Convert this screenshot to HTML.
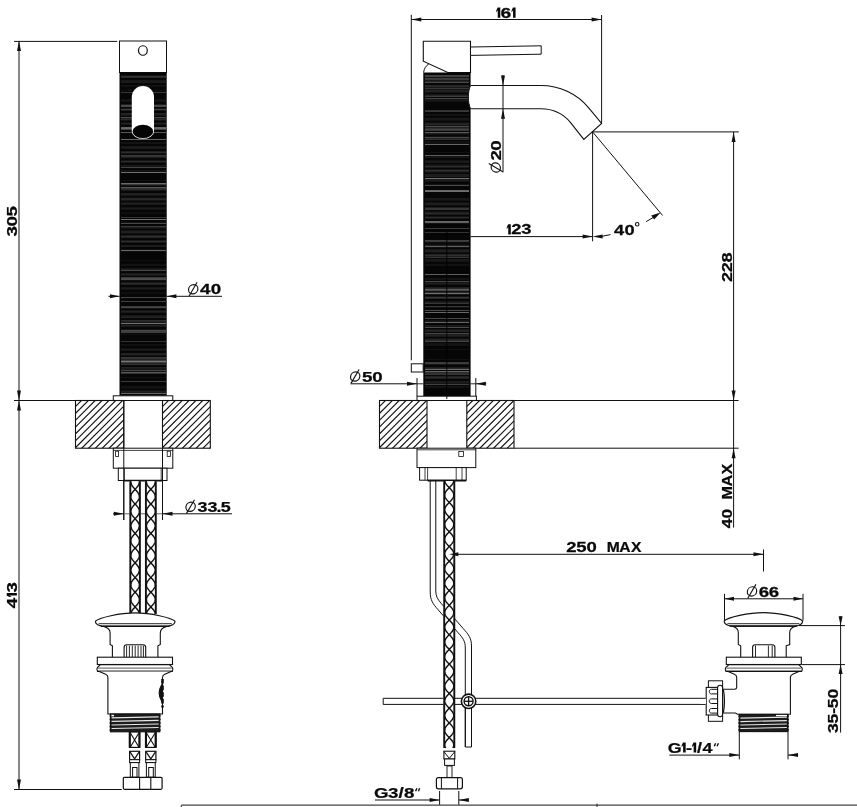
<!DOCTYPE html>
<html><head><meta charset="utf-8"><title>Faucet technical drawing</title>
<style>
html,body{margin:0;padding:0;background:#fff;}
body{width:857px;height:807px;overflow:hidden;}
svg{display:block;filter:grayscale(1);}
svg text{font-family:"Liberation Sans",sans-serif;font-weight:bold;fill:#0a0a0a;stroke:#0a0a0a;stroke-width:0.25px;}
</style></head><body>
<svg width="857" height="807" viewBox="0 0 857 807">
<defs>
<pattern id="h1" width="4.4" height="4.4" patternUnits="userSpaceOnUse">
<path d="M-1.1,1.1 L1.1,-1.1 M0,4.4 L4.4,0 M3.3,5.5 L5.5,3.3" stroke="#111" stroke-width="0.9" fill="none"/>
</pattern>
</defs>
<rect x="0" y="0" width="857" height="807" fill="#fff"/>
<line x1="411.30" y1="14.80" x2="411.30" y2="360.30" stroke="#111" stroke-width="1.0" />
<line x1="601.60" y1="15.00" x2="601.60" y2="123.00" stroke="#111" stroke-width="1.0" />
<line x1="411.30" y1="19.50" x2="601.60" y2="19.50" stroke="#111" stroke-width="1.0" />
<polygon points="411.30,19.50 421.30,17.50 421.30,21.50" fill="#111"/>
<polygon points="601.60,19.50 591.60,17.50 591.60,21.50" fill="#111"/>
<g transform="translate(496.30,17.60)"><polygon points="0.00,-7.16 1.35,-10.06 4.00,-10.06 4.00,0.10 1.45,0.10 1.45,-7.36 0.00,-5.16" fill="#0a0a0a"/><text transform="translate(4.30,0) scale(1.336,1)" font-size="14.4">6</text><polygon points="15.30,-7.16 16.65,-10.06 19.30,-10.06 19.30,0.10 16.75,0.10 16.75,-7.36 15.30,-5.16" fill="#0a0a0a"/></g>
<rect x="411.30" y="363.80" width="11.90" height="8.20" rx="0" fill="#fff" stroke="#111" stroke-width="1.0"/>
<path d="M423.3,41.3 L470.5,41.3 L470.5,72.5 L447.8,72.5 L423.3,61.2 Z" fill="#fff" stroke="#111" stroke-width="1.1" />
<path d="M423.6,72.5 C424,68.6 426,65.6 428.8,63.9" fill="none" stroke="#111" stroke-width="1.0" />
<path d="M470.5,47 L541.2,45.8 L541.2,54.2 L470.5,55.4 Z" fill="#fff" stroke="#111" stroke-width="1.0" />
<rect x="423.30" y="72.50" width="47.30" height="323.70" fill="#060606"/>
<g shape-rendering="crispEdges">
<rect x="424.5" y="75" width="44.9" height="1" fill="rgb(65,65,65)"/>
<rect x="424.5" y="76" width="44.9" height="1" fill="rgb(64,64,64)"/>
<rect x="424.5" y="77" width="44.9" height="1" fill="rgb(19,19,19)"/>
<rect x="424.5" y="78" width="44.9" height="1" fill="rgb(61,61,61)"/>
<rect x="424.5" y="79" width="44.9" height="1" fill="rgb(56,56,56)"/>
<rect x="424.5" y="80" width="44.9" height="1" fill="rgb(24,24,24)"/>
<rect x="424.5" y="81" width="44.9" height="1" fill="rgb(36,36,36)"/>
<rect x="424.5" y="82" width="44.9" height="1" fill="rgb(74,74,74)"/>
<rect x="424.5" y="85" width="44.9" height="1" fill="rgb(38,38,38)"/>
<rect x="424.5" y="86" width="44.9" height="1" fill="rgb(42,42,42)"/>
<rect x="424.5" y="87" width="44.9" height="1" fill="rgb(23,23,23)"/>
<rect x="424.5" y="88" width="44.9" height="1" fill="rgb(55,55,55)"/>
<rect x="424.5" y="89" width="44.9" height="1" fill="rgb(20,20,20)"/>
<rect x="424.5" y="90" width="44.9" height="1" fill="rgb(33,33,33)"/>
<rect x="424.5" y="91" width="44.9" height="1" fill="rgb(35,35,35)"/>
<rect x="424.5" y="92" width="44.9" height="1" fill="rgb(19,19,19)"/>
<rect x="424.5" y="94" width="44.9" height="1" fill="rgb(22,22,22)"/>
<rect x="424.5" y="95" width="44.9" height="1" fill="rgb(37,37,37)"/>
<rect x="424.5" y="96" width="44.9" height="1" fill="rgb(61,61,61)"/>
<rect x="424.5" y="98" width="44.9" height="1" fill="rgb(68,68,68)"/>
<rect x="424.5" y="99" width="44.9" height="1" fill="rgb(22,22,22)"/>
<rect x="424.5" y="100" width="44.9" height="1" fill="rgb(26,26,26)"/>
<rect x="424.5" y="101" width="44.9" height="1" fill="rgb(16,16,16)"/>
<rect x="424.5" y="110" width="44.9" height="1" fill="rgb(51,51,51)"/>
<rect x="424.5" y="111" width="44.9" height="1" fill="rgb(56,56,56)"/>
<rect x="424.5" y="114" width="44.9" height="1" fill="rgb(19,19,19)"/>
<rect x="424.5" y="115" width="44.9" height="1" fill="rgb(17,17,17)"/>
<rect x="424.5" y="118" width="44.9" height="1" fill="rgb(28,28,28)"/>
<rect x="424.5" y="119" width="44.9" height="1" fill="rgb(23,23,23)"/>
<rect x="424.5" y="120" width="44.9" height="1" fill="rgb(16,16,16)"/>
<rect x="424.5" y="122" width="44.9" height="1" fill="rgb(15,15,15)"/>
<rect x="424.5" y="123" width="44.9" height="1" fill="rgb(32,32,32)"/>
<rect x="424.5" y="124" width="44.9" height="1" fill="rgb(42,42,42)"/>
<rect x="424.5" y="125" width="44.9" height="1" fill="rgb(16,16,16)"/>
<rect x="424.5" y="126" width="44.9" height="1" fill="rgb(75,75,75)"/>
<rect x="424.5" y="127" width="44.9" height="1" fill="rgb(31,31,31)"/>
<rect x="424.5" y="128" width="44.9" height="1" fill="rgb(48,48,48)"/>
<rect x="424.5" y="129" width="44.9" height="1" fill="rgb(67,67,67)"/>
<rect x="424.5" y="130" width="44.9" height="1" fill="rgb(55,55,55)"/>
<rect x="424.5" y="132" width="44.9" height="1" fill="rgb(90,90,90)"/>
<rect x="424.5" y="133" width="44.9" height="1" fill="rgb(29,29,29)"/>
<rect x="424.5" y="134" width="44.9" height="1" fill="rgb(18,18,18)"/>
<rect x="424.5" y="136" width="44.9" height="1" fill="rgb(15,15,15)"/>
<rect x="424.5" y="137" width="44.9" height="1" fill="rgb(73,73,73)"/>
<rect x="424.5" y="138" width="44.9" height="1" fill="rgb(33,33,33)"/>
<rect x="424.5" y="139" width="44.9" height="1" fill="rgb(52,52,52)"/>
<rect x="424.5" y="141" width="44.9" height="1" fill="rgb(18,18,18)"/>
<rect x="424.5" y="142" width="44.9" height="1" fill="rgb(16,16,16)"/>
<rect x="424.5" y="143" width="44.9" height="1" fill="rgb(16,16,16)"/>
<rect x="424.5" y="144" width="44.9" height="1" fill="rgb(103,103,103)"/>
<rect x="424.5" y="152" width="44.9" height="1" fill="rgb(15,15,15)"/>
<rect x="424.5" y="155" width="44.9" height="1" fill="rgb(94,94,94)"/>
<rect x="424.5" y="156" width="44.9" height="1" fill="rgb(18,18,18)"/>
<rect x="424.5" y="157" width="44.9" height="1" fill="rgb(23,23,23)"/>
<rect x="424.5" y="160" width="44.9" height="1" fill="rgb(19,19,19)"/>
<rect x="424.5" y="161" width="44.9" height="1" fill="rgb(26,26,26)"/>
<rect x="424.5" y="162" width="44.9" height="1" fill="rgb(25,25,25)"/>
<rect x="424.5" y="164" width="44.9" height="1" fill="rgb(15,15,15)"/>
<rect x="424.5" y="165" width="44.9" height="1" fill="rgb(25,25,25)"/>
<rect x="424.5" y="166" width="44.9" height="1" fill="rgb(47,47,47)"/>
<rect x="424.5" y="167" width="44.9" height="1" fill="rgb(24,24,24)"/>
<rect x="424.5" y="169" width="44.9" height="1" fill="rgb(20,20,20)"/>
<rect x="424.5" y="170" width="44.9" height="1" fill="rgb(50,50,50)"/>
<rect x="424.5" y="171" width="44.9" height="1" fill="rgb(34,34,34)"/>
<rect x="424.5" y="172" width="44.9" height="1" fill="rgb(17,17,17)"/>
<rect x="424.5" y="174" width="44.9" height="1" fill="rgb(31,31,31)"/>
<rect x="424.5" y="175" width="44.9" height="1" fill="rgb(29,29,29)"/>
<rect x="424.5" y="176" width="44.9" height="1" fill="rgb(33,33,33)"/>
<rect x="424.5" y="178" width="44.9" height="1" fill="rgb(118,118,118)"/>
<rect x="424.5" y="179" width="44.9" height="1" fill="rgb(26,26,26)"/>
<rect x="424.5" y="180" width="44.9" height="1" fill="rgb(32,32,32)"/>
<rect x="424.5" y="181" width="44.9" height="1" fill="rgb(18,18,18)"/>
<rect x="424.5" y="184" width="44.9" height="1" fill="rgb(18,18,18)"/>
<rect x="424.5" y="185" width="44.9" height="1" fill="rgb(75,75,75)"/>
<rect x="424.5" y="190" width="44.9" height="1" fill="rgb(100,100,100)"/>
<rect x="424.5" y="191" width="44.9" height="1" fill="rgb(112,112,112)"/>
<rect x="424.5" y="198" width="44.9" height="1" fill="rgb(23,23,23)"/>
<rect x="424.5" y="199" width="44.9" height="1" fill="rgb(24,24,24)"/>
<rect x="424.5" y="200" width="44.9" height="1" fill="rgb(17,17,17)"/>
<rect x="424.5" y="202" width="44.9" height="1" fill="rgb(19,19,19)"/>
<rect x="424.5" y="203" width="44.9" height="1" fill="rgb(31,31,31)"/>
<rect x="424.5" y="204" width="44.9" height="1" fill="rgb(29,29,29)"/>
<rect x="424.5" y="205" width="44.9" height="1" fill="rgb(15,15,15)"/>
<rect x="424.5" y="207" width="44.9" height="1" fill="rgb(29,29,29)"/>
<rect x="424.5" y="208" width="44.9" height="1" fill="rgb(53,53,53)"/>
<rect x="424.5" y="209" width="44.9" height="1" fill="rgb(56,56,56)"/>
<rect x="424.5" y="211" width="44.9" height="1" fill="rgb(17,17,17)"/>
<rect x="424.5" y="212" width="44.9" height="1" fill="rgb(28,28,28)"/>
<rect x="424.5" y="213" width="44.9" height="1" fill="rgb(43,43,43)"/>
<rect x="424.5" y="214" width="44.9" height="1" fill="rgb(25,25,25)"/>
<rect x="424.5" y="216" width="44.9" height="1" fill="rgb(19,19,19)"/>
<rect x="424.5" y="217" width="44.9" height="1" fill="rgb(42,42,42)"/>
<rect x="424.5" y="218" width="44.9" height="1" fill="rgb(24,24,24)"/>
<rect x="424.5" y="221" width="44.9" height="1" fill="rgb(104,104,104)"/>
<rect x="424.5" y="222" width="44.9" height="1" fill="rgb(96,96,96)"/>
<rect x="424.5" y="223" width="44.9" height="1" fill="rgb(19,19,19)"/>
<rect x="424.5" y="228" width="44.9" height="1" fill="rgb(61,61,61)"/>
<rect x="424.5" y="232" width="44.9" height="1" fill="rgb(51,51,51)"/>
<rect x="424.5" y="240" width="44.9" height="1" fill="rgb(64,64,64)"/>
<rect x="424.5" y="241" width="44.9" height="1" fill="rgb(54,54,54)"/>
<rect x="424.5" y="242" width="44.9" height="1" fill="rgb(16,16,16)"/>
<rect x="424.5" y="244" width="44.9" height="1" fill="rgb(16,16,16)"/>
<rect x="424.5" y="245" width="44.9" height="1" fill="rgb(31,31,31)"/>
<rect x="424.5" y="246" width="44.9" height="1" fill="rgb(93,93,93)"/>
<rect x="424.5" y="247" width="44.9" height="1" fill="rgb(16,16,16)"/>
<rect x="424.5" y="249" width="44.9" height="1" fill="rgb(23,23,23)"/>
<rect x="424.5" y="250" width="44.9" height="1" fill="rgb(31,31,31)"/>
<rect x="424.5" y="251" width="44.9" height="1" fill="rgb(33,33,33)"/>
<rect x="424.5" y="252" width="44.9" height="1" fill="rgb(16,16,16)"/>
<rect x="424.5" y="254" width="44.9" height="1" fill="rgb(36,36,36)"/>
<rect x="424.5" y="255" width="44.9" height="1" fill="rgb(47,47,47)"/>
<rect x="424.5" y="256" width="44.9" height="1" fill="rgb(28,28,28)"/>
<rect x="424.5" y="257" width="44.9" height="1" fill="rgb(53,53,53)"/>
<rect x="424.5" y="259" width="44.9" height="1" fill="rgb(25,25,25)"/>
<rect x="424.5" y="260" width="44.9" height="1" fill="rgb(24,24,24)"/>
<rect x="424.5" y="261" width="44.9" height="1" fill="rgb(19,19,19)"/>
<rect x="424.5" y="264" width="44.9" height="1" fill="rgb(18,18,18)"/>
<rect x="424.5" y="265" width="44.9" height="1" fill="rgb(17,17,17)"/>
<rect x="424.5" y="274" width="44.9" height="1" fill="rgb(95,95,95)"/>
<rect x="424.5" y="278" width="44.9" height="1" fill="rgb(20,20,20)"/>
<rect x="424.5" y="279" width="44.9" height="1" fill="rgb(18,18,18)"/>
<rect x="424.5" y="281" width="44.9" height="1" fill="rgb(73,73,73)"/>
<rect x="424.5" y="282" width="44.9" height="1" fill="rgb(20,20,20)"/>
<rect x="424.5" y="283" width="44.9" height="1" fill="rgb(32,32,32)"/>
<rect x="424.5" y="284" width="44.9" height="1" fill="rgb(21,21,21)"/>
<rect x="424.5" y="287" width="44.9" height="1" fill="rgb(29,29,29)"/>
<rect x="424.5" y="288" width="44.9" height="1" fill="rgb(42,42,42)"/>
<rect x="424.5" y="289" width="44.9" height="1" fill="rgb(89,89,89)"/>
<rect x="424.5" y="290" width="44.9" height="1" fill="rgb(73,73,73)"/>
<rect x="424.5" y="291" width="44.9" height="1" fill="rgb(18,18,18)"/>
<rect x="424.5" y="292" width="44.9" height="1" fill="rgb(39,39,39)"/>
<rect x="424.5" y="293" width="44.9" height="1" fill="rgb(112,112,112)"/>
<rect x="424.5" y="294" width="44.9" height="1" fill="rgb(22,22,22)"/>
<rect x="424.5" y="296" width="44.9" height="1" fill="rgb(18,18,18)"/>
<rect x="424.5" y="297" width="44.9" height="1" fill="rgb(57,57,57)"/>
<rect x="424.5" y="298" width="44.9" height="1" fill="rgb(35,35,35)"/>
<rect x="424.5" y="301" width="44.9" height="1" fill="rgb(23,23,23)"/>
<rect x="424.5" y="302" width="44.9" height="1" fill="rgb(33,33,33)"/>
<rect x="424.5" y="303" width="44.9" height="1" fill="rgb(54,54,54)"/>
<rect x="424.5" y="306" width="44.9" height="1" fill="rgb(57,57,57)"/>
<rect x="424.5" y="307" width="44.9" height="1" fill="rgb(19,19,19)"/>
<rect x="424.5" y="310" width="44.9" height="1" fill="rgb(75,75,75)"/>
<rect x="424.5" y="312" width="44.9" height="1" fill="rgb(101,101,101)"/>
<rect x="424.5" y="318" width="44.9" height="1" fill="rgb(72,72,72)"/>
<rect x="424.5" y="320" width="44.9" height="1" fill="rgb(19,19,19)"/>
<rect x="424.5" y="321" width="44.9" height="1" fill="rgb(25,25,25)"/>
<rect x="424.5" y="322" width="44.9" height="1" fill="rgb(102,102,102)"/>
<rect x="424.5" y="325" width="44.9" height="1" fill="rgb(26,26,26)"/>
<rect x="424.5" y="326" width="44.9" height="1" fill="rgb(22,22,22)"/>
<rect x="424.5" y="327" width="44.9" height="1" fill="rgb(75,75,75)"/>
<rect x="424.5" y="329" width="44.9" height="1" fill="rgb(21,21,21)"/>
<rect x="424.5" y="330" width="44.9" height="1" fill="rgb(37,37,37)"/>
<rect x="424.5" y="331" width="44.9" height="1" fill="rgb(33,33,33)"/>
<rect x="424.5" y="333" width="44.9" height="1" fill="rgb(73,73,73)"/>
<rect x="424.5" y="334" width="44.9" height="1" fill="rgb(28,28,28)"/>
<rect x="424.5" y="335" width="44.9" height="1" fill="rgb(35,35,35)"/>
<rect x="424.5" y="336" width="44.9" height="1" fill="rgb(26,26,26)"/>
<rect x="424.5" y="338" width="44.9" height="1" fill="rgb(19,19,19)"/>
<rect x="424.5" y="339" width="44.9" height="1" fill="rgb(35,35,35)"/>
<rect x="424.5" y="340" width="44.9" height="1" fill="rgb(41,41,41)"/>
<rect x="424.5" y="341" width="44.9" height="1" fill="rgb(70,70,70)"/>
<rect x="424.5" y="343" width="44.9" height="1" fill="rgb(19,19,19)"/>
<rect x="424.5" y="344" width="44.9" height="1" fill="rgb(20,20,20)"/>
<rect x="424.5" y="345" width="44.9" height="1" fill="rgb(18,18,18)"/>
<rect x="424.5" y="349" width="44.9" height="1" fill="rgb(16,16,16)"/>
<rect x="424.5" y="359" width="44.9" height="1" fill="rgb(17,17,17)"/>
<rect x="424.5" y="362" width="44.9" height="1" fill="rgb(57,57,57)"/>
<rect x="424.5" y="363" width="44.9" height="1" fill="rgb(64,64,64)"/>
<rect x="424.5" y="364" width="44.9" height="1" fill="rgb(22,22,22)"/>
<rect x="424.5" y="367" width="44.9" height="1" fill="rgb(26,26,26)"/>
<rect x="424.5" y="368" width="44.9" height="1" fill="rgb(41,41,41)"/>
<rect x="424.5" y="369" width="44.9" height="1" fill="rgb(109,109,109)"/>
<rect x="424.5" y="371" width="44.9" height="1" fill="rgb(98,98,98)"/>
<rect x="424.5" y="372" width="44.9" height="1" fill="rgb(46,46,46)"/>
<rect x="424.5" y="373" width="44.9" height="1" fill="rgb(45,45,45)"/>
<rect x="424.5" y="374" width="44.9" height="1" fill="rgb(54,54,54)"/>
<rect x="424.5" y="376" width="44.9" height="1" fill="rgb(31,31,31)"/>
<rect x="424.5" y="377" width="44.9" height="1" fill="rgb(43,43,43)"/>
<rect x="424.5" y="378" width="44.9" height="1" fill="rgb(31,31,31)"/>
<rect x="424.5" y="381" width="44.9" height="1" fill="rgb(29,29,29)"/>
<rect x="424.5" y="382" width="44.9" height="1" fill="rgb(26,26,26)"/>
<rect x="424.5" y="383" width="44.9" height="1" fill="rgb(22,22,22)"/>
<rect x="424.5" y="384" width="44.9" height="1" fill="rgb(64,64,64)"/>
<rect x="424.5" y="386" width="44.9" height="1" fill="rgb(20,20,20)"/>
<rect x="424.5" y="387" width="44.9" height="1" fill="rgb(17,17,17)"/>
</g>
<path d="M472,85.5 L470.6,85.5 C467.6,91 467.6,103 470.6,108.8 L472,108.8 Z" fill="#fff"/>
<line x1="446.80" y1="231.00" x2="446.80" y2="399.00" stroke="#000" stroke-width="0.9" />
<path d="M470.6,85.5 L541,85.5 A62,62 0 0 1 588.5,107.6 L601.6,123.4 L583.8,139.4 L570.6,122.6 A38.7,38.7 0 0 0 541,108.8 L470.6,108.8" fill="#fff" stroke="#111" stroke-width="1.1" />
<path d="M470.6,85.5 C467.6,91 467.6,103 470.6,108.8" fill="none" stroke="#111" stroke-width="1.0" />
<line x1="503.00" y1="75.00" x2="503.00" y2="172.40" stroke="#111" stroke-width="1.0" />
<polygon points="503.00,85.50 501.00,75.50 505.00,75.50" fill="#111"/>
<polygon points="503.00,108.80 501.00,118.80 505.00,118.80" fill="#111"/>
<g transform="translate(495.80,167.50) rotate(-90)"><ellipse cx="0" cy="0" rx="4.65" ry="4.65" fill="none" stroke="#111" stroke-width="1.15" transform="skewX(-6)"/><line x1="-4.2" y1="6.9" x2="3.9" y2="-7.0" stroke="#111" stroke-width="1.1"/></g>
<g transform="translate(501.00,159.90) rotate(-90)"><text transform="translate(-0.65,0) scale(1.299,1)" font-size="14.4">2</text><text transform="translate(9.27,0) scale(1.299,1)" font-size="14.4">0</text></g>
<line x1="592.60" y1="131.90" x2="738.80" y2="131.90" stroke="#111" stroke-width="1.0" />
<line x1="592.60" y1="131.90" x2="592.60" y2="241.30" stroke="#111" stroke-width="1.0" />
<line x1="592.60" y1="131.90" x2="662.60" y2="215.50" stroke="#111" stroke-width="1.0" />
<line x1="470.60" y1="236.60" x2="592.60" y2="236.60" stroke="#111" stroke-width="1.0" />
<polygon points="592.60,236.60 582.60,234.60 582.60,238.60" fill="#111"/>
<g transform="translate(506.80,234.40)"><polygon points="0.00,-7.16 1.35,-10.06 4.00,-10.06 4.00,0.10 1.45,0.10 1.45,-7.36 0.00,-5.16" fill="#0a0a0a"/><text transform="translate(4.36,0) scale(1.277,1)" font-size="14.4">2</text><text transform="translate(14.43,0) scale(1.277,1)" font-size="14.4">3</text></g>
<polygon points="592.60,236.60 602.60,234.60 602.60,238.60" fill="#111"/>
<line x1="602.00" y1="236.30" x2="610.50" y2="234.60" stroke="#111" stroke-width="1.0" />
<polygon points="660.6,212.6 651.2,215.6 654.2,219.6" fill="#111"/>
<line x1="653.20" y1="217.50" x2="646.20" y2="221.60" stroke="#111" stroke-width="1.0" />
<g transform="translate(614.30,235.00)"><text transform="translate(-0.28,0) scale(1.270,1)" font-size="14.4">4</text><text transform="translate(10.08,0) scale(1.270,1)" font-size="14.4">0</text></g>
<circle cx="637.2" cy="224.2" r="1.75" fill="none" stroke="#111" stroke-width="1.1"/>
<line x1="733.60" y1="131.90" x2="733.60" y2="527.60" stroke="#111" stroke-width="1.0" />
<polygon points="733.60,131.90 731.60,141.90 735.60,141.90" fill="#111"/>
<polygon points="733.60,400.50 731.60,390.50 735.60,390.50" fill="#111"/>
<polygon points="733.60,448.20 731.60,458.20 735.60,458.20" fill="#111"/>
<g transform="translate(731.80,281.40) rotate(-90)"><text transform="translate(-0.63,0) scale(1.259,1)" font-size="14.4">2</text><text transform="translate(9.10,0) scale(1.259,1)" font-size="14.4">2</text><text transform="translate(18.88,0) scale(1.259,1)" font-size="14.4">8</text></g>
<g transform="translate(731.80,528.00) rotate(-90)"><text transform="translate(-0.26,0) scale(1.202,1)" font-size="14.4">4</text><text transform="translate(9.59,0) scale(1.202,1)" font-size="14.4">0</text></g>
<g transform="translate(731.80,498.50) rotate(-90)"><text transform="translate(-1.08,0) scale(1.124,1)" font-size="14.4">M</text><text transform="translate(11.92,0) scale(1.124,1)" font-size="14.4">A</text><text transform="translate(24.04,0) scale(1.124,1)" font-size="14.4">X</text></g>
<line x1="514.00" y1="400.50" x2="738.60" y2="400.50" stroke="#111" stroke-width="1.0" />
<line x1="514.00" y1="448.20" x2="738.60" y2="448.20" stroke="#111" stroke-width="1.0" />
<line x1="350.50" y1="383.80" x2="417.00" y2="383.80" stroke="#111" stroke-width="1.0" />
<polygon points="417.00,383.80 407.00,381.80 407.00,385.80" fill="#111"/>
<line x1="417.00" y1="378.00" x2="417.00" y2="396.00" stroke="#111" stroke-width="1.0" />
<line x1="475.80" y1="378.00" x2="475.80" y2="396.00" stroke="#111" stroke-width="1.0" />
<polygon points="475.80,383.80 485.80,381.80 485.80,385.80" fill="#111"/>
<line x1="475.80" y1="383.80" x2="486.30" y2="383.80" stroke="#111" stroke-width="1.0" />
<line x1="417.00" y1="383.80" x2="423.30" y2="383.80" stroke="#111" stroke-width="0.9" />
<line x1="470.60" y1="383.80" x2="475.80" y2="383.80" stroke="#111" stroke-width="0.9" />
<g transform="translate(355.20,376.50) rotate(0)"><ellipse cx="0" cy="0" rx="4.65" ry="4.65" fill="none" stroke="#111" stroke-width="1.15" transform="skewX(-6)"/><line x1="-4.2" y1="6.9" x2="3.9" y2="-7.0" stroke="#111" stroke-width="1.1"/></g>
<g transform="translate(362.70,381.50)"><text transform="translate(-0.58,0) scale(1.299,1)" font-size="14.4">5</text><text transform="translate(9.57,0) scale(1.299,1)" font-size="14.4">0</text></g>
<rect x="417.00" y="396.20" width="59.40" height="4.30" rx="0" fill="#fff" stroke="#111" stroke-width="1.0"/>
<line x1="446.80" y1="395.00" x2="446.80" y2="399.00" stroke="#000" stroke-width="0.9" />
<clipPath id="hc1"><rect x="379.50" y="400.50" width="47.50" height="47.70"/></clipPath>
<rect x="379.50" y="400.50" width="47.50" height="47.70" fill="#fff"/>
<path d="M336.80,449.20 L386.50,399.50 M343.65,449.20 L393.35,399.50 M350.50,449.20 L400.20,399.50 M357.35,449.20 L407.05,399.50 M364.20,449.20 L413.90,399.50 M371.05,449.20 L420.75,399.50 M377.90,449.20 L427.60,399.50 M384.75,449.20 L434.45,399.50 M391.60,449.20 L441.30,399.50 M398.45,449.20 L448.15,399.50 M405.30,449.20 L455.00,399.50 M412.15,449.20 L461.85,399.50 M419.00,449.20 L468.70,399.50 M425.85,449.20 L475.55,399.50" stroke="#111" stroke-width="1.15" fill="none" clip-path="url(#hc1)"/>
<rect x="379.50" y="400.50" width="47.50" height="47.70" fill="none" stroke="#111" stroke-width="1.1"/>
<clipPath id="hc2"><rect x="466.80" y="400.50" width="47.20" height="47.70"/></clipPath>
<rect x="466.80" y="400.50" width="47.20" height="47.70" fill="#fff"/>
<path d="M424.10,449.20 L473.80,399.50 M430.95,449.20 L480.65,399.50 M437.80,449.20 L487.50,399.50 M444.65,449.20 L494.35,399.50 M451.50,449.20 L501.20,399.50 M458.35,449.20 L508.05,399.50 M465.20,449.20 L514.90,399.50 M472.05,449.20 L521.75,399.50 M478.90,449.20 L528.60,399.50 M485.75,449.20 L535.45,399.50 M492.60,449.20 L542.30,399.50 M499.45,449.20 L549.15,399.50 M506.30,449.20 L556.00,399.50" stroke="#111" stroke-width="1.15" fill="none" clip-path="url(#hc2)"/>
<rect x="466.80" y="400.50" width="47.20" height="47.70" fill="none" stroke="#111" stroke-width="1.1"/>
<rect x="417.00" y="448.20" width="58.80" height="19.40" rx="0" fill="#fff" stroke="#111" stroke-width="1.0"/>
<line x1="417.00" y1="449.80" x2="475.80" y2="449.80" stroke="#111" stroke-width="0.8" />
<rect x="458.80" y="451.40" width="4.80" height="5.00" rx="0" fill="#fff" stroke="#111" stroke-width="0.8"/>
<rect x="419.60" y="467.60" width="46.60" height="12.60" rx="0" fill="#fff" stroke="#111" stroke-width="1.0"/>
<line x1="425.00" y1="467.60" x2="425.00" y2="480.20" stroke="#111" stroke-width="0.8" />
<line x1="427.60" y1="467.60" x2="427.60" y2="480.20" stroke="#111" stroke-width="0.8" />
<line x1="456.20" y1="467.60" x2="456.20" y2="480.20" stroke="#111" stroke-width="0.8" />
<line x1="462.00" y1="467.60" x2="462.00" y2="480.20" stroke="#111" stroke-width="0.8" />
<line x1="427.60" y1="480.60" x2="466.20" y2="480.60" stroke="#111" stroke-width="1.6" />
<path d="M430.2,481 L430.2,592 C430.2,600 433,604 438,609.6 L458,632.6 C463,638.2 465.3,641 465.3,648 L465.3,747" fill="none" stroke="#111" stroke-width="1.0" />
<path d="M435.8,481 L435.8,591 C435.8,596 437.4,599 441,603.2 L463,628.3 C468.4,634.4 471.5,638 471.5,646 L471.5,747 L465.3,747" fill="none" stroke="#111" stroke-width="1.0" />
<path d="M705.6,698.3 L383.2,698.3 L383.2,704.4 L705.6,704.4" fill="#fff" stroke="#111" stroke-width="1.0" />
<rect x="465.8" y="697" width="5.2" height="9" fill="#fff"/>
<rect x="443.50" y="481.00" width="11.50" height="267.00" fill="#fff"/>
<line x1="444.20" y1="481.00" x2="444.20" y2="748.00" stroke="#111" stroke-width="1.9" />
<line x1="454.30" y1="481.00" x2="454.30" y2="748.00" stroke="#111" stroke-width="1.9" />
<polyline points="453.76,481.00 453.58,481.80 453.28,482.60 452.87,483.40 452.35,484.20 451.73,485.00 451.05,485.80 450.31,486.60 449.55,487.40 448.77,488.19 448.01,488.99 447.28,489.79 446.61,490.59 446.02,491.39 445.52,492.19 445.13,492.99 444.86,493.79 444.72,494.59 444.71,495.39 444.83,496.19 445.08,496.99 445.46,497.79 445.94,498.59 446.52,499.39 447.18,500.19 447.89,500.99 448.65,501.78 449.43,502.58 450.20,503.38 450.94,504.18 451.64,504.98 452.26,505.78 452.80,506.58 453.23,507.38 453.55,508.18 453.74,508.98 453.80,509.78 453.73,510.58 453.53,511.38 453.20,512.18 452.76,512.98 452.22,513.78 451.59,514.57 450.89,515.37 450.14,516.17 449.37,516.97 448.60,517.77 447.84,518.57 447.13,519.37 446.47,520.17 445.90,520.97 445.43,521.77 445.06,522.57 444.82,523.37 444.71,524.17 444.73,524.97 444.88,525.77 445.16,526.57 445.55,527.37 446.06,528.16 446.66,528.96 447.33,529.76 448.06,530.56 448.82,531.36 449.60,532.16 450.37,532.96 451.10,533.76 451.78,534.56 452.39,535.36 452.90,536.16 453.31,536.96 453.60,537.76 453.76,538.56 453.80,539.36 453.70,540.16 453.47,540.96 453.11,541.75 452.65,542.55 452.08,543.35 451.44,544.15 450.73,544.95 449.97,545.75 449.20,546.55 448.43,547.35 447.68,548.15 446.98,548.95 446.34,549.75 445.79,550.55 445.34,551.35 445.00,552.15 444.78,552.95 444.70,553.75 444.75,554.54 444.93,555.34 445.24,556.14 445.66,556.94 446.19,557.74 446.80,558.54 447.49,559.34 448.23,560.14 449.00,560.94 449.77,561.74 450.53,562.54 451.26,563.34 451.92,564.14 452.51,564.94 453.00,565.74 453.38,566.54 453.65,567.34 453.78,568.13 453.78,568.93 453.66,569.73 453.40,570.53 453.02,571.33 452.53,572.13 451.95,572.93 451.28,573.73 450.56,574.53 449.80,575.33 449.03,576.13 448.26,576.93 447.52,577.73 446.83,578.53 446.21,579.33 445.68,580.13 445.25,580.93 444.94,581.72 444.75,582.52 444.70,583.32 444.78,584.12 444.99,584.92 445.32,585.72 445.77,586.52 446.32,587.32 446.95,588.12 447.65,588.92 448.40,589.72 449.17,590.52 449.94,591.32 450.70,592.12 451.41,592.92 452.06,593.72 452.63,594.51 453.10,595.31 453.45,596.11 453.69,596.91 453.79,597.71 453.77,598.51 453.61,599.31 453.32,600.11 452.92,600.91 452.41,601.71 451.81,602.51 451.13,603.31 450.40,604.11 449.63,604.91 448.86,605.71 448.09,606.51 447.36,607.31 446.68,608.10 446.08,608.90 445.57,609.70 445.17,610.50 444.89,611.30 444.73,612.10 444.71,612.90 444.81,613.70 445.05,614.50 445.41,615.30 445.88,616.10 446.45,616.90 447.10,617.70 447.81,618.50 448.57,619.30 449.34,620.10 450.12,620.90 450.86,621.69 451.56,622.49 452.19,623.29 452.74,624.09 453.19,624.89 453.52,625.69 453.72,626.49 453.80,627.29 453.74,628.09 453.56,628.89 453.24,629.69 452.81,630.49 452.28,631.29 451.66,632.09 450.97,632.89 450.23,633.69 449.46,634.49 448.68,635.28 447.92,636.08 447.20,636.88 446.54,637.68 445.96,638.48 445.47,639.28 445.10,640.08 444.84,640.88 444.71,641.68 444.72,642.48 444.86,643.28 445.12,644.08 445.51,644.88 446.00,645.68 446.59,646.48 447.25,647.28 447.98,648.07 448.74,648.87 449.52,649.67 450.28,650.47 451.02,651.27 451.71,652.07 452.32,652.87 452.85,653.67 453.27,654.47 453.57,655.27 453.75,656.07 453.80,656.87 453.71,657.67 453.50,658.47 453.16,659.27 452.70,660.07 452.15,660.87 451.51,661.66 450.81,662.46 450.06,663.26 449.29,664.06 448.51,664.86 447.76,665.66 447.05,666.46 446.41,667.26 445.84,668.06 445.38,668.86 445.03,669.66 444.80,670.46 444.70,671.26 444.74,672.06 444.90,672.86 445.20,673.66 445.61,674.46 446.12,675.25 446.73,676.05 447.41,676.85 448.15,677.65 448.91,678.45 449.69,679.25 450.45,680.05 451.18,680.85 451.85,681.65 452.45,682.45 452.95,683.25 453.35,684.05 453.62,684.85 453.77,685.65 453.79,686.45 453.68,687.25 453.43,688.04 453.07,688.84 452.59,689.64 452.02,690.44 451.36,691.24 450.65,692.04 449.89,692.84 449.11,693.64 448.34,694.44 447.60,695.24 446.90,696.04 446.27,696.84 445.73,697.64 445.29,698.44 444.97,699.24 444.77,700.04 444.70,700.84 444.76,701.63 444.96,702.43 445.28,703.23 445.71,704.03 446.25,704.83 446.88,705.63 447.57,706.43 448.31,707.23 449.08,708.03 449.86,708.83 450.62,709.63 451.34,710.43 451.99,711.23 452.57,712.03 453.05,712.83 453.42,713.63 453.67,714.43 453.79,715.22 453.78,716.02 453.63,716.82 453.36,717.62 452.97,718.42 452.47,719.22 451.88,720.02 451.21,720.82 450.48,721.62 449.72,722.42 448.94,723.22 448.17,724.02 447.44,724.82 446.75,725.62 446.14,726.42 445.62,727.22 445.21,728.01 444.91,728.81 444.74,729.61 444.70,730.41 444.80,731.21 445.02,732.01 445.36,732.81 445.82,733.61 446.38,734.41 447.03,735.21 447.73,736.01 448.48,736.81 449.26,737.61 450.03,738.41 450.78,739.21 451.49,740.01 452.13,740.81 452.69,741.60 453.14,742.40 453.49,743.20 453.71,744.00 453.80,744.80 453.76,745.60 453.58,746.40 453.28,747.20 452.87,748.00" fill="none" stroke="#111" stroke-width="1.45"/>
<polyline points="444.74,481.00 444.92,481.80 445.22,482.60 445.63,483.40 446.15,484.20 446.77,485.00 447.45,485.80 448.19,486.60 448.95,487.40 449.73,488.19 450.49,488.99 451.22,489.79 451.89,490.59 452.48,491.39 452.98,492.19 453.37,492.99 453.64,493.79 453.78,494.59 453.79,495.39 453.67,496.19 453.42,496.99 453.04,497.79 452.56,498.59 451.98,499.39 451.32,500.19 450.61,500.99 449.85,501.78 449.07,502.58 448.30,503.38 447.56,504.18 446.86,504.98 446.24,505.78 445.70,506.58 445.27,507.38 444.95,508.18 444.76,508.98 444.70,509.78 444.77,510.58 444.97,511.38 445.30,512.18 445.74,512.98 446.28,513.78 446.91,514.57 447.61,515.37 448.36,516.17 449.13,516.97 449.90,517.77 450.66,518.57 451.37,519.37 452.03,520.17 452.60,520.97 453.07,521.77 453.44,522.57 453.68,523.37 453.79,524.17 453.77,524.97 453.62,525.77 453.34,526.57 452.95,527.37 452.44,528.16 451.84,528.96 451.17,529.76 450.44,530.56 449.68,531.36 448.90,532.16 448.13,532.96 447.40,533.76 446.72,534.56 446.11,535.36 445.60,536.16 445.19,536.96 444.90,537.76 444.74,538.56 444.70,539.36 444.80,540.16 445.03,540.96 445.39,541.75 445.85,542.55 446.42,543.35 447.06,544.15 447.77,544.95 448.53,545.75 449.30,546.55 450.07,547.35 450.82,548.15 451.52,548.95 452.16,549.75 452.71,550.55 453.16,551.35 453.50,552.15 453.72,552.95 453.80,553.75 453.75,554.54 453.57,555.34 453.26,556.14 452.84,556.94 452.31,557.74 451.70,558.54 451.01,559.34 450.27,560.14 449.50,560.94 448.73,561.74 447.97,562.54 447.24,563.34 446.58,564.14 445.99,564.94 445.50,565.74 445.12,566.54 444.85,567.34 444.72,568.13 444.72,568.93 444.84,569.73 445.10,570.53 445.48,571.33 445.97,572.13 446.55,572.93 447.22,573.73 447.94,574.53 448.70,575.33 449.47,576.13 450.24,576.93 450.98,577.73 451.67,578.53 452.29,579.33 452.82,580.13 453.25,580.93 453.56,581.72 453.75,582.52 453.80,583.32 453.72,584.12 453.51,584.92 453.18,585.72 452.73,586.52 452.18,587.32 451.55,588.12 450.85,588.92 450.10,589.72 449.33,590.52 448.56,591.32 447.80,592.12 447.09,592.92 446.44,593.72 445.87,594.51 445.40,595.31 445.05,596.11 444.81,596.91 444.71,597.71 444.73,598.51 444.89,599.31 445.18,600.11 445.58,600.91 446.09,601.71 446.69,602.51 447.37,603.31 448.10,604.11 448.87,604.91 449.64,605.71 450.41,606.51 451.14,607.31 451.82,608.10 452.42,608.90 452.93,609.70 453.33,610.50 453.61,611.30 453.77,612.10 453.79,612.90 453.69,613.70 453.45,614.50 453.09,615.30 452.62,616.10 452.05,616.90 451.40,617.70 450.69,618.50 449.93,619.30 449.16,620.10 448.38,620.90 447.64,621.69 446.94,622.49 446.31,623.29 445.76,624.09 445.31,624.89 444.98,625.69 444.78,626.49 444.70,627.29 444.76,628.09 444.94,628.89 445.26,629.69 445.69,630.49 446.22,631.29 446.84,632.09 447.53,632.89 448.27,633.69 449.04,634.49 449.82,635.28 450.58,636.08 451.30,636.88 451.96,637.68 452.54,638.48 453.03,639.28 453.40,640.08 453.66,640.88 453.79,641.68 453.78,642.48 453.64,643.28 453.38,644.08 452.99,644.88 452.50,645.68 451.91,646.48 451.25,647.28 450.52,648.07 449.76,648.87 448.98,649.67 448.22,650.47 447.48,651.27 446.79,652.07 446.18,652.87 445.65,653.67 445.23,654.47 444.93,655.27 444.75,656.07 444.70,656.87 444.79,657.67 445.00,658.47 445.34,659.27 445.80,660.07 446.35,660.87 446.99,661.66 447.69,662.46 448.44,663.26 449.21,664.06 449.99,664.86 450.74,665.66 451.45,666.46 452.09,667.26 452.66,668.06 453.12,668.86 453.47,669.66 453.70,670.46 453.80,671.26 453.76,672.06 453.60,672.86 453.30,673.66 452.89,674.46 452.38,675.25 451.77,676.05 451.09,676.85 450.35,677.65 449.59,678.45 448.81,679.25 448.05,680.05 447.32,680.85 446.65,681.65 446.05,682.45 445.55,683.25 445.15,684.05 444.88,684.85 444.73,685.65 444.71,686.45 444.82,687.25 445.07,688.04 445.43,688.84 445.91,689.64 446.48,690.44 447.14,691.24 447.85,692.04 448.61,692.84 449.39,693.64 450.16,694.44 450.90,695.24 451.60,696.04 452.23,696.84 452.77,697.64 453.21,698.44 453.53,699.24 453.73,700.04 453.80,700.84 453.74,701.63 453.54,702.43 453.22,703.23 452.79,704.03 452.25,704.83 451.62,705.63 450.93,706.43 450.19,707.23 449.42,708.03 448.64,708.83 447.88,709.63 447.16,710.43 446.51,711.23 445.93,712.03 445.45,712.83 445.08,713.63 444.83,714.43 444.71,715.22 444.72,716.02 444.87,716.82 445.14,717.62 445.53,718.42 446.03,719.22 446.62,720.02 447.29,720.82 448.02,721.62 448.78,722.42 449.56,723.22 450.33,724.02 451.06,724.82 451.75,725.62 452.36,726.42 452.88,727.22 453.29,728.01 453.59,728.81 453.76,729.61 453.80,730.41 453.70,731.21 453.48,732.01 453.14,732.81 452.68,733.61 452.12,734.41 451.47,735.21 450.77,736.01 450.02,736.81 449.24,737.61 448.47,738.41 447.72,739.21 447.01,740.01 446.37,740.81 445.81,741.60 445.36,742.40 445.01,743.20 444.79,744.00 444.70,744.80 444.74,745.60 444.92,746.40 445.22,747.20 445.63,748.00" fill="none" stroke="#111" stroke-width="1.45"/>
<circle cx="468.6" cy="701.3" r="7.2" fill="#fff" stroke="#111" stroke-width="1.6"/>
<circle cx="468.6" cy="701.3" r="4.5" fill="#fff" stroke="#111" stroke-width="1.4"/>
<line x1="464.40" y1="701.30" x2="472.80" y2="701.30" stroke="#111" stroke-width="1.3" />
<line x1="468.60" y1="697.10" x2="468.60" y2="705.50" stroke="#111" stroke-width="1.3" />
<line x1="465.30" y1="708.00" x2="465.30" y2="747.00" stroke="#111" stroke-width="1.0" />
<line x1="471.50" y1="708.00" x2="471.50" y2="747.00" stroke="#111" stroke-width="1.0" />
<rect x="443.90" y="751.20" width="10.90" height="7.80" rx="0" fill="#fff" stroke="#111" stroke-width="1.1"/>
<path d="M443.9,751.6 L449.3,758.4 L454.8,751.6" fill="none" stroke="#111" stroke-width="1.0" />
<rect x="444.60" y="759.00" width="9.80" height="6.40" rx="0" fill="#fff" stroke="#111" stroke-width="1.0"/>
<rect x="447.00" y="766.00" width="5.00" height="11.40" rx="0" fill="#fff" stroke="#111" stroke-width="0.9"/>
<rect x="436.40" y="777.60" width="26.00" height="11.20" rx="2" fill="#fff" stroke="#111" stroke-width="1.2"/>
<line x1="441.40" y1="777.60" x2="441.40" y2="788.80" stroke="#111" stroke-width="1.0" />
<line x1="457.60" y1="777.60" x2="457.60" y2="788.80" stroke="#111" stroke-width="1.0" />
<line x1="439.60" y1="791.00" x2="439.60" y2="805.00" stroke="#111" stroke-width="1.0" />
<line x1="458.80" y1="791.00" x2="458.80" y2="805.00" stroke="#111" stroke-width="1.0" />
<line x1="375.00" y1="800.00" x2="439.60" y2="800.00" stroke="#111" stroke-width="1.0" />
<polygon points="439.60,800.00 429.60,798.00 429.60,802.00" fill="#111"/>
<polygon points="458.80,800.00 468.80,798.00 468.80,802.00" fill="#111"/>
<line x1="458.80" y1="800.00" x2="468.80" y2="800.00" stroke="#111" stroke-width="1.0" />
<g transform="translate(374.80,797.70)"><text transform="translate(-0.77,0) scale(1.299,1)" font-size="14.4">G</text><text transform="translate(13.20,0) scale(1.299,1)" font-size="14.4">3</text><text transform="translate(23.75,0) scale(1.299,1)" font-size="14.4">/</text><text transform="translate(29.17,0) scale(1.299,1)" font-size="14.4">8</text></g>
<line x1="415.60" y1="791.20" x2="416.90" y2="788.20" stroke="#111" stroke-width="1.4" />
<line x1="418.40" y1="791.20" x2="419.70" y2="788.20" stroke="#111" stroke-width="1.4" />
<line x1="455.00" y1="554.30" x2="763.50" y2="554.30" stroke="#111" stroke-width="1.0" />
<polygon points="763.50,554.30 753.50,552.30 753.50,556.30" fill="#111"/>
<polygon points="449.30,554.30 458.30,552.30 458.30,556.30" fill="#111"/>
<line x1="763.50" y1="549.50" x2="763.50" y2="571.50" stroke="#111" stroke-width="1.0" />
<g transform="translate(567.00,552.40)"><text transform="translate(-0.64,0) scale(1.289,1)" font-size="14.4">2</text><text transform="translate(9.37,0) scale(1.289,1)" font-size="14.4">5</text><text transform="translate(19.44,0) scale(1.289,1)" font-size="14.4">0</text></g>
<g transform="translate(607.80,552.40)"><text transform="translate(-1.05,0) scale(1.087,1)" font-size="14.4">M</text><text transform="translate(11.55,0) scale(1.087,1)" font-size="14.4">A</text><text transform="translate(23.30,0) scale(1.087,1)" font-size="14.4">X</text></g>
<line x1="181.30" y1="805.20" x2="857.00" y2="805.20" stroke="#444" stroke-width="1.2" />
<line x1="181.30" y1="805.20" x2="181.30" y2="807.00" stroke="#444" stroke-width="1.2" />
<line x1="597.00" y1="803.60" x2="597.00" y2="807.00" stroke="#222" stroke-width="1.0" />
<line x1="724.50" y1="593.80" x2="724.50" y2="620.50" stroke="#111" stroke-width="1.0" />
<line x1="803.00" y1="593.80" x2="803.00" y2="620.50" stroke="#111" stroke-width="1.0" />
<line x1="724.50" y1="598.80" x2="803.00" y2="598.80" stroke="#111" stroke-width="1.0" />
<polygon points="724.50,598.80 734.00,596.80 734.00,600.80" fill="#111"/>
<polygon points="803.00,598.80 793.50,596.80 793.50,600.80" fill="#111"/>
<g transform="translate(752.00,591.40) rotate(0)"><ellipse cx="0" cy="0" rx="4.65" ry="4.65" fill="none" stroke="#111" stroke-width="1.15" transform="skewX(-6)"/><line x1="-4.2" y1="6.9" x2="3.9" y2="-7.0" stroke="#111" stroke-width="1.1"/></g>
<g transform="translate(759.40,596.50)"><text transform="translate(-0.68,0) scale(1.293,1)" font-size="14.4">6</text><text transform="translate(9.32,0) scale(1.293,1)" font-size="14.4">6</text></g>
<path d="M724.3,620.8 C727.8,617.3 748.6,612.6 763.4,612.6 C778.2,612.6 799,617.3 802.5,620.8 C802.8,622.7 801,624.4 798.8,625.2 L795.6,626.2 L731.2,626.2 L728,625.2 C725.8,624.4 724,622.7 724.3,620.8 Z" fill="#fff" stroke="#111" stroke-width="1.15" />
<line x1="727.40" y1="623.70" x2="799.40" y2="623.70" stroke="#111" stroke-width="0.9" />
<line x1="729.60" y1="626.10" x2="797.20" y2="626.10" stroke="#111" stroke-width="1.5" />
<path d="M732.5,626.3 C736.4,627.4 738.3,629.4 738.3,632.6 L738.3,644.5 L740.7,645.8 L740.7,657.2" fill="none" stroke="#111" stroke-width="1.1" />
<path d="M795.5,626.3 C791.6,627.4 789.7,629.4 789.7,632.6 L789.7,644.5 L786.2,645.8 L786.2,657.2" fill="none" stroke="#111" stroke-width="1.1" />
<path d="M752.6,657.2 L752.6,647.4 C752.6,645.7 753.7,644.7 755.3,644.7 L772.2,644.7 C773.8,644.7 774.9,645.7 774.9,647.4 L774.9,657.2" fill="none" stroke="#111" stroke-width="1.1" />
<line x1="755.50" y1="645.60" x2="755.50" y2="657.20" stroke="#111" stroke-width="0.9" />
<line x1="768.40" y1="645.60" x2="768.40" y2="657.20" stroke="#111" stroke-width="0.9" />
<line x1="772.20" y1="645.60" x2="772.20" y2="657.20" stroke="#111" stroke-width="0.9" />
<rect x="726.30" y="657.20" width="75.00" height="7.30" rx="0" fill="#fff" stroke="#111" stroke-width="1.1"/>
<path d="M729,664.6 L798.6,664.6 L801.6,667.4 C802.2,668.2 802.2,670.4 801.6,671.4 L726,671.4 C725.4,670.4 725.4,668.2 726,667.4 Z" fill="#fff" stroke="#111" stroke-width="1.1" />
<line x1="726.50" y1="668.10" x2="801.10" y2="668.10" stroke="#777" stroke-width="1.3" />
<line x1="726.00" y1="671.40" x2="801.60" y2="671.40" stroke="#111" stroke-width="1.4" />
<path d="M728.2,671.6 L734.4,674.2 C736,674.9 736.7,675.6 736.7,677.2 L736.7,687.4 C736.6,688.6 735.8,689.2 734.6,689.2 L722.8,689.2 M722.8,713 L735.4,713 L737.6,714.2 L790.4,714.2 L790.4,677.2 C790.4,675.6 791.1,674.9 792.7,674.2 L798.9,671.6" fill="none" stroke="#111" stroke-width="1.1" />
<rect x="739.20" y="714.40" width="48.80" height="17.20" fill="#1c1c1c" stroke="#111" stroke-width="1.1"/>
<line x1="740.40" y1="718.14" x2="786.80" y2="717.14" stroke="#e6e6e6" stroke-width="1.1" />
<line x1="740.40" y1="721.58" x2="786.80" y2="720.58" stroke="#e6e6e6" stroke-width="1.1" />
<line x1="740.40" y1="725.02" x2="786.80" y2="724.02" stroke="#e6e6e6" stroke-width="1.1" />
<line x1="740.40" y1="728.46" x2="786.80" y2="727.46" stroke="#e6e6e6" stroke-width="1.1" />
<circle cx="739.20" cy="716.12" r="0.9" fill="#111"/><circle cx="788.00" cy="716.12" r="0.9" fill="#111"/>
<circle cx="739.20" cy="719.56" r="0.9" fill="#111"/><circle cx="788.00" cy="719.56" r="0.9" fill="#111"/>
<circle cx="739.20" cy="723.00" r="0.9" fill="#111"/><circle cx="788.00" cy="723.00" r="0.9" fill="#111"/>
<circle cx="739.20" cy="726.44" r="0.9" fill="#111"/><circle cx="788.00" cy="726.44" r="0.9" fill="#111"/>
<circle cx="739.20" cy="729.88" r="0.9" fill="#111"/><circle cx="788.00" cy="729.88" r="0.9" fill="#111"/>
<rect x="776" y="714.9" width="11" height="1.3" fill="#fff"/>
<rect x="708.40" y="680.80" width="14.20" height="40.50" rx="0" fill="#fff" stroke="#111" stroke-width="1.0"/>
<rect x="706.20" y="687.40" width="11.80" height="27.60" rx="0" fill="#fff" stroke="#111" stroke-width="1.1"/>
<path d="M717.6,689.3 L711.4,689.3 C708.6,689.3 708.6,693.9 711.4,693.9 L717.6,693.9" fill="none" stroke="#111" stroke-width="1.0" />
<path d="M717.6,698.9 L711.4,698.9 C708.6,698.9 708.6,703.5 711.4,703.5 L717.6,703.5" fill="none" stroke="#111" stroke-width="1.0" />
<path d="M717.6,708.5 L711.4,708.5 C708.6,708.5 708.6,713.1 711.4,713.1 L717.6,713.1" fill="none" stroke="#111" stroke-width="1.0" />
<rect x="717.60" y="685.20" width="5.00" height="31.60" rx="2.5" fill="#fff" stroke="#111" stroke-width="1.1"/>
<path d="M723.4,689.5 C724.6,696 724.6,706 723.4,712.6" fill="none" stroke="#111" stroke-width="1.2" />
<rect x="700" y="699" width="6" height="4.8" fill="#fff"/>
<line x1="799.00" y1="625.60" x2="845.00" y2="625.60" stroke="#111" stroke-width="1.0" />
<line x1="802.00" y1="664.60" x2="845.00" y2="664.60" stroke="#111" stroke-width="1.0" />
<line x1="840.60" y1="616.30" x2="840.60" y2="625.60" stroke="#111" stroke-width="1.0" />
<line x1="840.60" y1="664.60" x2="840.60" y2="732.60" stroke="#111" stroke-width="1.0" />
<line x1="840.60" y1="625.60" x2="840.60" y2="664.60" stroke="#111" stroke-width="1.0" />
<polygon points="840.60,625.60 838.60,616.20 842.60,616.20" fill="#111"/>
<polygon points="840.60,664.60 838.60,674.00 842.60,674.00" fill="#111"/>
<g transform="translate(838.40,732.60) rotate(-90)"><text transform="translate(-0.40,0) scale(1.222,1)" font-size="14.4">3</text><text transform="translate(9.21,0) scale(1.222,1)" font-size="14.4">5</text><text transform="translate(18.82,0) scale(1.222,1)" font-size="14.4">-</text><text transform="translate(24.43,0) scale(1.222,1)" font-size="14.4">5</text><text transform="translate(34.03,0) scale(1.222,1)" font-size="14.4">0</text></g>
<line x1="739.30" y1="732.00" x2="739.30" y2="759.40" stroke="#111" stroke-width="1.0" />
<line x1="788.00" y1="732.00" x2="788.00" y2="759.40" stroke="#111" stroke-width="1.0" />
<line x1="669.30" y1="755.10" x2="739.30" y2="755.10" stroke="#111" stroke-width="1.0" />
<polygon points="739.30,755.10 729.30,753.10 729.30,757.10" fill="#111"/>
<polygon points="788.00,755.10 798.00,753.10 798.00,757.10" fill="#111"/>
<line x1="788.00" y1="755.10" x2="798.20" y2="755.10" stroke="#111" stroke-width="1.0" />
<g transform="translate(668.60,752.50)"><text transform="translate(-0.73,0) scale(1.242,1)" font-size="14.4">G</text><polygon points="13.07,-7.16 14.42,-10.06 17.07,-10.06 17.07,0.10 14.52,0.10 14.52,-7.36 13.07,-5.16" fill="#0a0a0a"/><text transform="translate(17.37,0) scale(1.242,1)" font-size="14.4">-</text><polygon points="23.60,-7.16 24.95,-10.06 27.60,-10.06 27.60,0.10 25.05,0.10 25.05,-7.36 23.60,-5.16" fill="#0a0a0a"/><text transform="translate(28.43,0) scale(1.242,1)" font-size="14.4">/</text><text transform="translate(33.95,0) scale(1.242,1)" font-size="14.4">4</text></g>
<line x1="714.30" y1="746.30" x2="715.60" y2="743.20" stroke="#111" stroke-width="1.4" />
<line x1="717.10" y1="746.30" x2="718.40" y2="743.20" stroke="#111" stroke-width="1.4" />
<line x1="14.00" y1="41.40" x2="117.20" y2="41.40" stroke="#111" stroke-width="1.0" />
<line x1="19.00" y1="41.00" x2="19.00" y2="789.50" stroke="#111" stroke-width="1.0" />
<polygon points="19.00,41.00 17.00,51.00 21.00,51.00" fill="#111"/>
<polygon points="19.00,400.50 17.00,390.50 21.00,390.50" fill="#111"/>
<polygon points="19.00,400.50 17.00,410.50 21.00,410.50" fill="#111"/>
<polygon points="19.00,789.50 17.00,779.50 21.00,779.50" fill="#111"/>
<line x1="14.00" y1="400.50" x2="75.50" y2="400.50" stroke="#111" stroke-width="1.0" />
<line x1="14.00" y1="789.50" x2="121.80" y2="789.50" stroke="#111" stroke-width="1.0" />
<g transform="translate(16.80,236.00) rotate(-90)"><text transform="translate(-0.43,0) scale(1.299,1)" font-size="14.4">3</text><text transform="translate(9.56,0) scale(1.299,1)" font-size="14.4">0</text><text transform="translate(19.62,0) scale(1.299,1)" font-size="14.4">5</text></g>
<g transform="translate(16.80,608.00) rotate(-90)"><text transform="translate(-0.28,0) scale(1.298,1)" font-size="14.4">4</text><polygon points="11.01,-7.16 12.36,-10.06 15.01,-10.06 15.01,0.10 12.46,0.10 12.46,-7.36 11.01,-5.16" fill="#0a0a0a"/><text transform="translate(15.58,0) scale(1.298,1)" font-size="14.4">3</text></g>
<rect x="119.50" y="41.00" width="47.00" height="31.50" rx="0" fill="#fff" stroke="#111" stroke-width="1.0"/>
<ellipse cx="142.9" cy="50.5" rx="4.4" ry="4.75" fill="none" stroke="#111" stroke-width="1.2"/>
<rect x="119.50" y="72.50" width="47.20" height="323.30" fill="#060606"/>
<g shape-rendering="crispEdges">
<rect x="120.7" y="75" width="44.8" height="1" fill="rgb(20,20,20)"/>
<rect x="120.7" y="76" width="44.8" height="1" fill="rgb(50,50,50)"/>
<rect x="120.7" y="77" width="44.8" height="1" fill="rgb(40,40,40)"/>
<rect x="120.7" y="80" width="44.8" height="1" fill="rgb(23,23,23)"/>
<rect x="120.7" y="81" width="44.8" height="1" fill="rgb(25,25,25)"/>
<rect x="120.7" y="82" width="44.8" height="1" fill="rgb(26,26,26)"/>
<rect x="120.7" y="85" width="44.8" height="1" fill="rgb(20,20,20)"/>
<rect x="120.7" y="86" width="44.8" height="1" fill="rgb(16,16,16)"/>
<rect x="120.7" y="90" width="44.8" height="1" fill="rgb(15,15,15)"/>
<rect x="120.7" y="92" width="44.8" height="1" fill="rgb(56,56,56)"/>
<rect x="120.7" y="99" width="44.8" height="1" fill="rgb(17,17,17)"/>
<rect x="120.7" y="100" width="44.8" height="1" fill="rgb(21,21,21)"/>
<rect x="120.7" y="101" width="44.8" height="1" fill="rgb(18,18,18)"/>
<rect x="120.7" y="104" width="44.8" height="1" fill="rgb(30,30,30)"/>
<rect x="120.7" y="105" width="44.8" height="1" fill="rgb(73,73,73)"/>
<rect x="120.7" y="106" width="44.8" height="1" fill="rgb(72,72,72)"/>
<rect x="120.7" y="108" width="44.8" height="1" fill="rgb(19,19,19)"/>
<rect x="120.7" y="109" width="44.8" height="1" fill="rgb(67,67,67)"/>
<rect x="120.7" y="110" width="44.8" height="1" fill="rgb(25,25,25)"/>
<rect x="120.7" y="113" width="44.8" height="1" fill="rgb(37,37,37)"/>
<rect x="120.7" y="114" width="44.8" height="1" fill="rgb(31,31,31)"/>
<rect x="120.7" y="115" width="44.8" height="1" fill="rgb(22,22,22)"/>
<rect x="120.7" y="117" width="44.8" height="1" fill="rgb(74,74,74)"/>
<rect x="120.7" y="118" width="44.8" height="1" fill="rgb(30,30,30)"/>
<rect x="120.7" y="119" width="44.8" height="1" fill="rgb(43,43,43)"/>
<rect x="120.7" y="120" width="44.8" height="1" fill="rgb(19,19,19)"/>
<rect x="120.7" y="122" width="44.8" height="1" fill="rgb(18,18,18)"/>
<rect x="120.7" y="123" width="44.8" height="1" fill="rgb(34,34,34)"/>
<rect x="120.7" y="124" width="44.8" height="1" fill="rgb(23,23,23)"/>
<rect x="120.7" y="127" width="44.8" height="1" fill="rgb(99,99,99)"/>
<rect x="120.7" y="128" width="44.8" height="1" fill="rgb(106,106,106)"/>
<rect x="120.7" y="129" width="44.8" height="1" fill="rgb(67,67,67)"/>
<rect x="120.7" y="132" width="44.8" height="1" fill="rgb(87,87,87)"/>
<rect x="120.7" y="139" width="44.8" height="1" fill="rgb(104,104,104)"/>
<rect x="120.7" y="142" width="44.8" height="1" fill="rgb(19,19,19)"/>
<rect x="120.7" y="143" width="44.8" height="1" fill="rgb(19,19,19)"/>
<rect x="120.7" y="146" width="44.8" height="1" fill="rgb(23,23,23)"/>
<rect x="120.7" y="147" width="44.8" height="1" fill="rgb(27,27,27)"/>
<rect x="120.7" y="148" width="44.8" height="1" fill="rgb(24,24,24)"/>
<rect x="120.7" y="151" width="44.8" height="1" fill="rgb(29,29,29)"/>
<rect x="120.7" y="152" width="44.8" height="1" fill="rgb(45,45,45)"/>
<rect x="120.7" y="153" width="44.8" height="1" fill="rgb(18,18,18)"/>
<rect x="120.7" y="155" width="44.8" height="1" fill="rgb(58,58,58)"/>
<rect x="120.7" y="156" width="44.8" height="1" fill="rgb(47,47,47)"/>
<rect x="120.7" y="157" width="44.8" height="1" fill="rgb(31,31,31)"/>
<rect x="120.7" y="160" width="44.8" height="1" fill="rgb(20,20,20)"/>
<rect x="120.7" y="161" width="44.8" height="1" fill="rgb(43,43,43)"/>
<rect x="120.7" y="162" width="44.8" height="1" fill="rgb(23,23,23)"/>
<rect x="120.7" y="165" width="44.8" height="1" fill="rgb(25,25,25)"/>
<rect x="120.7" y="166" width="44.8" height="1" fill="rgb(22,22,22)"/>
<rect x="120.7" y="167" width="44.8" height="1" fill="rgb(66,66,66)"/>
<rect x="120.7" y="170" width="44.8" height="1" fill="rgb(18,18,18)"/>
<rect x="120.7" y="171" width="44.8" height="1" fill="rgb(16,16,16)"/>
<rect x="120.7" y="172" width="44.8" height="1" fill="rgb(111,111,111)"/>
<rect x="120.7" y="180" width="44.8" height="1" fill="rgb(16,16,16)"/>
<rect x="120.7" y="183" width="44.8" height="1" fill="rgb(107,107,107)"/>
<rect x="120.7" y="184" width="44.8" height="1" fill="rgb(57,57,57)"/>
<rect x="120.7" y="185" width="44.8" height="1" fill="rgb(22,22,22)"/>
<rect x="120.7" y="187" width="44.8" height="1" fill="rgb(86,86,86)"/>
<rect x="120.7" y="188" width="44.8" height="1" fill="rgb(51,51,51)"/>
<rect x="120.7" y="189" width="44.8" height="1" fill="rgb(43,43,43)"/>
<rect x="120.7" y="190" width="44.8" height="1" fill="rgb(23,23,23)"/>
<rect x="120.7" y="193" width="44.8" height="1" fill="rgb(32,32,32)"/>
<rect x="120.7" y="194" width="44.8" height="1" fill="rgb(33,33,33)"/>
<rect x="120.7" y="195" width="44.8" height="1" fill="rgb(22,22,22)"/>
<rect x="120.7" y="197" width="44.8" height="1" fill="rgb(15,15,15)"/>
<rect x="120.7" y="198" width="44.8" height="1" fill="rgb(34,34,34)"/>
<rect x="120.7" y="199" width="44.8" height="1" fill="rgb(43,43,43)"/>
<rect x="120.7" y="200" width="44.8" height="1" fill="rgb(21,21,21)"/>
<rect x="120.7" y="202" width="44.8" height="1" fill="rgb(21,21,21)"/>
<rect x="120.7" y="203" width="44.8" height="1" fill="rgb(31,31,31)"/>
<rect x="120.7" y="204" width="44.8" height="1" fill="rgb(26,26,26)"/>
<rect x="120.7" y="207" width="44.8" height="1" fill="rgb(19,19,19)"/>
<rect x="120.7" y="208" width="44.8" height="1" fill="rgb(27,27,27)"/>
<rect x="120.7" y="209" width="44.8" height="1" fill="rgb(18,18,18)"/>
<rect x="120.7" y="212" width="44.8" height="1" fill="rgb(15,15,15)"/>
<rect x="120.7" y="213" width="44.8" height="1" fill="rgb(15,15,15)"/>
<rect x="120.7" y="217" width="44.8" height="1" fill="rgb(52,52,52)"/>
<rect x="120.7" y="219" width="44.8" height="1" fill="rgb(114,114,114)"/>
<rect x="120.7" y="222" width="44.8" height="1" fill="rgb(21,21,21)"/>
<rect x="120.7" y="223" width="44.8" height="1" fill="rgb(71,71,71)"/>
<rect x="120.7" y="226" width="44.8" height="1" fill="rgb(59,59,59)"/>
<rect x="120.7" y="227" width="44.8" height="1" fill="rgb(29,29,29)"/>
<rect x="120.7" y="228" width="44.8" height="1" fill="rgb(17,17,17)"/>
<rect x="120.7" y="230" width="44.8" height="1" fill="rgb(19,19,19)"/>
<rect x="120.7" y="231" width="44.8" height="1" fill="rgb(31,31,31)"/>
<rect x="120.7" y="232" width="44.8" height="1" fill="rgb(32,32,32)"/>
<rect x="120.7" y="233" width="44.8" height="1" fill="rgb(15,15,15)"/>
<rect x="120.7" y="235" width="44.8" height="1" fill="rgb(28,28,28)"/>
<rect x="120.7" y="236" width="44.8" height="1" fill="rgb(45,45,45)"/>
<rect x="120.7" y="237" width="44.8" height="1" fill="rgb(36,36,36)"/>
<rect x="120.7" y="240" width="44.8" height="1" fill="rgb(24,24,24)"/>
<rect x="120.7" y="241" width="44.8" height="1" fill="rgb(47,47,47)"/>
<rect x="120.7" y="242" width="44.8" height="1" fill="rgb(23,23,23)"/>
<rect x="120.7" y="245" width="44.8" height="1" fill="rgb(26,26,26)"/>
<rect x="120.7" y="246" width="44.8" height="1" fill="rgb(30,30,30)"/>
<rect x="120.7" y="249" width="44.8" height="1" fill="rgb(16,16,16)"/>
<rect x="120.7" y="250" width="44.8" height="1" fill="rgb(101,101,101)"/>
<rect x="120.7" y="251" width="44.8" height="1" fill="rgb(16,16,16)"/>
<rect x="120.7" y="260" width="44.8" height="1" fill="rgb(15,15,15)"/>
<rect x="120.7" y="264" width="44.8" height="1" fill="rgb(17,17,17)"/>
<rect x="120.7" y="265" width="44.8" height="1" fill="rgb(18,18,18)"/>
<rect x="120.7" y="268" width="44.8" height="1" fill="rgb(23,23,23)"/>
<rect x="120.7" y="269" width="44.8" height="1" fill="rgb(29,29,29)"/>
<rect x="120.7" y="270" width="44.8" height="1" fill="rgb(73,73,73)"/>
<rect x="120.7" y="273" width="44.8" height="1" fill="rgb(23,23,23)"/>
<rect x="120.7" y="274" width="44.8" height="1" fill="rgb(37,37,37)"/>
<rect x="120.7" y="275" width="44.8" height="1" fill="rgb(21,21,21)"/>
<rect x="120.7" y="277" width="44.8" height="1" fill="rgb(57,57,57)"/>
<rect x="120.7" y="278" width="44.8" height="1" fill="rgb(74,74,74)"/>
<rect x="120.7" y="279" width="44.8" height="1" fill="rgb(76,76,76)"/>
<rect x="120.7" y="280" width="44.8" height="1" fill="rgb(17,17,17)"/>
<rect x="120.7" y="282" width="44.8" height="1" fill="rgb(26,26,26)"/>
<rect x="120.7" y="283" width="44.8" height="1" fill="rgb(43,43,43)"/>
<rect x="120.7" y="284" width="44.8" height="1" fill="rgb(32,32,32)"/>
<rect x="120.7" y="287" width="44.8" height="1" fill="rgb(22,22,22)"/>
<rect x="120.7" y="288" width="44.8" height="1" fill="rgb(29,29,29)"/>
<rect x="120.7" y="289" width="44.8" height="1" fill="rgb(16,16,16)"/>
<rect x="120.7" y="292" width="44.8" height="1" fill="rgb(15,15,15)"/>
<rect x="120.7" y="293" width="44.8" height="1" fill="rgb(15,15,15)"/>
<rect x="120.7" y="297" width="44.8" height="1" fill="rgb(70,70,70)"/>
<rect x="120.7" y="301" width="44.8" height="1" fill="rgb(64,64,64)"/>
<rect x="120.7" y="306" width="44.8" height="1" fill="rgb(57,57,57)"/>
<rect x="120.7" y="307" width="44.8" height="1" fill="rgb(71,71,71)"/>
<rect x="120.7" y="308" width="44.8" height="1" fill="rgb(17,17,17)"/>
<rect x="120.7" y="310" width="44.8" height="1" fill="rgb(19,19,19)"/>
<rect x="120.7" y="311" width="44.8" height="1" fill="rgb(35,35,35)"/>
<rect x="120.7" y="312" width="44.8" height="1" fill="rgb(25,25,25)"/>
<rect x="120.7" y="315" width="44.8" height="1" fill="rgb(23,23,23)"/>
<rect x="120.7" y="316" width="44.8" height="1" fill="rgb(29,29,29)"/>
<rect x="120.7" y="317" width="44.8" height="1" fill="rgb(37,37,37)"/>
<rect x="120.7" y="320" width="44.8" height="1" fill="rgb(42,42,42)"/>
<rect x="120.7" y="321" width="44.8" height="1" fill="rgb(35,35,35)"/>
<rect x="120.7" y="322" width="44.8" height="1" fill="rgb(23,23,23)"/>
<rect x="120.7" y="323" width="44.8" height="1" fill="rgb(111,111,111)"/>
<rect x="120.7" y="324" width="44.8" height="1" fill="rgb(19,19,19)"/>
<rect x="120.7" y="325" width="44.8" height="1" fill="rgb(33,33,33)"/>
<rect x="120.7" y="326" width="44.8" height="1" fill="rgb(26,26,26)"/>
<rect x="120.7" y="329" width="44.8" height="1" fill="rgb(19,19,19)"/>
<rect x="120.7" y="330" width="44.8" height="1" fill="rgb(72,72,72)"/>
<rect x="120.7" y="331" width="44.8" height="1" fill="rgb(60,60,60)"/>
<rect x="120.7" y="332" width="44.8" height="1" fill="rgb(65,65,65)"/>
<rect x="120.7" y="334" width="44.8" height="1" fill="rgb(16,16,16)"/>
<rect x="120.7" y="341" width="44.8" height="1" fill="rgb(51,51,51)"/>
<rect x="120.7" y="344" width="44.8" height="1" fill="rgb(17,17,17)"/>
<rect x="120.7" y="345" width="44.8" height="1" fill="rgb(16,16,16)"/>
<rect x="120.7" y="348" width="44.8" height="1" fill="rgb(16,16,16)"/>
<rect x="120.7" y="349" width="44.8" height="1" fill="rgb(29,29,29)"/>
<rect x="120.7" y="350" width="44.8" height="1" fill="rgb(20,20,20)"/>
<rect x="120.7" y="353" width="44.8" height="1" fill="rgb(34,34,34)"/>
<rect x="120.7" y="354" width="44.8" height="1" fill="rgb(34,34,34)"/>
<rect x="120.7" y="355" width="44.8" height="1" fill="rgb(18,18,18)"/>
<rect x="120.7" y="357" width="44.8" height="1" fill="rgb(54,54,54)"/>
<rect x="120.7" y="358" width="44.8" height="1" fill="rgb(50,50,50)"/>
<rect x="120.7" y="359" width="44.8" height="1" fill="rgb(35,35,35)"/>
<rect x="120.7" y="360" width="44.8" height="1" fill="rgb(61,61,61)"/>
<rect x="120.7" y="361" width="44.8" height="1" fill="rgb(118,118,118)"/>
<rect x="120.7" y="362" width="44.8" height="1" fill="rgb(63,63,63)"/>
<rect x="120.7" y="363" width="44.8" height="1" fill="rgb(32,32,32)"/>
<rect x="120.7" y="364" width="44.8" height="1" fill="rgb(51,51,51)"/>
<rect x="120.7" y="367" width="44.8" height="1" fill="rgb(33,33,33)"/>
<rect x="120.7" y="368" width="44.8" height="1" fill="rgb(27,27,27)"/>
<rect x="120.7" y="369" width="44.8" height="1" fill="rgb(21,21,21)"/>
<rect x="120.7" y="370" width="44.8" height="1" fill="rgb(69,69,69)"/>
<rect x="120.7" y="371" width="44.8" height="1" fill="rgb(16,16,16)"/>
<rect x="120.7" y="372" width="44.8" height="1" fill="rgb(88,88,88)"/>
<rect x="120.7" y="373" width="44.8" height="1" fill="rgb(51,51,51)"/>
<rect x="120.7" y="377" width="44.8" height="1" fill="rgb(16,16,16)"/>
<rect x="120.7" y="381" width="44.8" height="1" fill="rgb(60,60,60)"/>
<rect x="120.7" y="386" width="44.8" height="1" fill="rgb(19,19,19)"/>
<rect x="120.7" y="387" width="44.8" height="1" fill="rgb(18,18,18)"/>
<rect x="120.7" y="388" width="44.8" height="1" fill="rgb(15,15,15)"/>
<rect x="120.7" y="390" width="44.8" height="1" fill="rgb(18,18,18)"/>
<rect x="120.7" y="391" width="44.8" height="1" fill="rgb(31,31,31)"/>
<rect x="120.7" y="392" width="44.8" height="1" fill="rgb(26,26,26)"/>
<rect x="120.7" y="393" width="44.8" height="1" fill="rgb(101,101,101)"/>
</g>
<path d="M131.8,97 A11.1,11.1 0 0 1 154,97 L154,131.4 A11.1,7.4 0 0 1 131.8,131.4 Z" fill="#fff"/>
<ellipse cx="142.9" cy="131.4" rx="10.3" ry="6.7" fill="#050505"/>
<rect x="113.30" y="395.80" width="59.50" height="4.70" rx="0" fill="#fff" stroke="#111" stroke-width="1.0"/>
<clipPath id="hc3"><rect x="75.50" y="400.50" width="48.30" height="47.70"/></clipPath>
<rect x="75.50" y="400.50" width="48.30" height="47.70" fill="#fff"/>
<path d="M32.80,449.20 L82.50,399.50 M39.65,449.20 L89.35,399.50 M46.50,449.20 L96.20,399.50 M53.35,449.20 L103.05,399.50 M60.20,449.20 L109.90,399.50 M67.05,449.20 L116.75,399.50 M73.90,449.20 L123.60,399.50 M80.75,449.20 L130.45,399.50 M87.60,449.20 L137.30,399.50 M94.45,449.20 L144.15,399.50 M101.30,449.20 L151.00,399.50 M108.15,449.20 L157.85,399.50 M115.00,449.20 L164.70,399.50 M121.85,449.20 L171.55,399.50" stroke="#111" stroke-width="1.15" fill="none" clip-path="url(#hc3)"/>
<rect x="75.50" y="400.50" width="48.30" height="47.70" fill="none" stroke="#111" stroke-width="1.1"/>
<clipPath id="hc4"><rect x="162.50" y="400.50" width="47.80" height="47.70"/></clipPath>
<rect x="162.50" y="400.50" width="47.80" height="47.70" fill="#fff"/>
<path d="M119.80,449.20 L169.50,399.50 M126.65,449.20 L176.35,399.50 M133.50,449.20 L183.20,399.50 M140.35,449.20 L190.05,399.50 M147.20,449.20 L196.90,399.50 M154.05,449.20 L203.75,399.50 M160.90,449.20 L210.60,399.50 M167.75,449.20 L217.45,399.50 M174.60,449.20 L224.30,399.50 M181.45,449.20 L231.15,399.50 M188.30,449.20 L238.00,399.50 M195.15,449.20 L244.85,399.50 M202.00,449.20 L251.70,399.50 M208.85,449.20 L258.55,399.50" stroke="#111" stroke-width="1.15" fill="none" clip-path="url(#hc4)"/>
<rect x="162.50" y="400.50" width="47.80" height="47.70" fill="none" stroke="#111" stroke-width="1.1"/>
<line x1="123.80" y1="400.50" x2="123.80" y2="520.00" stroke="#111" stroke-width="1.0" />
<line x1="162.50" y1="400.50" x2="162.50" y2="520.00" stroke="#111" stroke-width="1.0" />
<rect x="113.30" y="448.20" width="59.50" height="20.00" rx="0" fill="#fff" stroke="#111" stroke-width="1.0"/>
<line x1="113.30" y1="450.40" x2="172.80" y2="450.40" stroke="#111" stroke-width="0.8" />
<rect x="115.60" y="451.20" width="3.00" height="5.20" rx="0" fill="#fff" stroke="#111" stroke-width="0.8"/>
<rect x="167.20" y="451.20" width="3.20" height="5.20" rx="0" fill="#fff" stroke="#111" stroke-width="0.8"/>
<rect x="118.30" y="468.20" width="48.70" height="12.30" rx="0" fill="#fff" stroke="#111" stroke-width="1.0"/>
<line x1="124.40" y1="468.20" x2="124.40" y2="480.50" stroke="#111" stroke-width="0.8" />
<line x1="161.20" y1="468.20" x2="161.20" y2="480.50" stroke="#111" stroke-width="0.8" />
<line x1="123.80" y1="480.60" x2="162.50" y2="480.60" stroke="#111" stroke-width="1.6" />
<line x1="123.80" y1="448.20" x2="123.80" y2="520.00" stroke="#111" stroke-width="1.0" />
<line x1="162.50" y1="448.20" x2="162.50" y2="520.00" stroke="#111" stroke-width="1.0" />
<line x1="123.80" y1="513.80" x2="162.50" y2="513.80" stroke="#555" stroke-width="0.9" />
<rect x="129.60" y="481.20" width="11.00" height="132.80" fill="#fff"/>
<line x1="130.30" y1="481.20" x2="130.30" y2="614.00" stroke="#111" stroke-width="1.9" />
<line x1="139.90" y1="481.20" x2="139.90" y2="614.00" stroke="#111" stroke-width="1.9" />
<polyline points="130.86,481.20 130.80,482.00 130.87,482.79 131.06,483.59 131.37,484.38 131.78,485.18 132.29,485.97 132.88,486.77 133.54,487.56 134.24,488.36 134.96,489.15 135.69,489.95 136.40,490.74 137.08,491.54 137.70,492.33 138.24,493.13 138.69,493.92 139.04,494.72 139.27,495.51 139.39,496.31 139.38,497.10 139.25,497.90 139.00,498.69 138.63,499.49 138.17,500.29 137.61,501.08 136.99,501.88 136.31,502.67 135.59,503.47 134.86,504.26 134.14,505.06 133.44,505.85 132.80,506.65 132.21,507.44 131.72,508.24 131.32,509.03 131.03,509.83 130.85,510.62 130.80,511.42 130.87,512.21 131.07,513.01 131.38,513.80 131.80,514.60 132.31,515.39 132.90,516.19 133.56,516.98 134.26,517.78 134.99,518.57 135.71,519.37 136.42,520.17 137.10,520.96 137.71,521.76 138.25,522.55 138.70,523.35 139.05,524.14 139.28,524.94 139.39,525.73 139.38,526.53 139.24,527.32 138.99,528.12 138.62,528.91 138.15,529.71 137.60,530.50 136.97,531.30 136.29,532.09 135.57,532.89 134.84,533.68 134.12,534.48 133.42,535.27 132.78,536.07 132.20,536.86 131.70,537.66 131.31,538.46 131.02,539.25 130.85,540.05 130.80,540.84 130.88,541.64 131.07,542.43 131.39,543.23 131.81,544.02 132.32,544.82 132.92,545.61 133.58,546.41 134.28,547.20 135.01,548.00 135.73,548.79 136.44,549.59 137.12,550.38 137.73,551.18 138.27,551.97 138.71,552.77 139.06,553.56 139.28,554.36 139.39,555.15 139.38,555.95 139.24,556.74 138.98,557.54 138.61,558.34 138.14,559.13 137.58,559.93 136.95,560.72 136.27,561.52 135.55,562.31 134.82,563.11 134.10,563.90 133.40,564.70 132.76,565.49 132.18,566.29 131.69,567.08 131.30,567.88 131.01,568.67 130.85,569.47 130.80,570.26 130.88,571.06 131.08,571.85 131.40,572.65 131.82,573.44 132.34,574.24 132.94,575.03 133.60,575.83 134.30,576.63 135.03,577.42 135.76,578.22 136.46,579.01 137.13,579.81 137.75,580.60 138.28,581.40 138.72,582.19 139.06,582.99 139.29,583.78 139.39,584.58 139.37,585.37 139.23,586.17 138.97,586.96 138.60,587.76 138.12,588.55 137.56,589.35 136.93,590.14 136.24,590.94 135.53,591.73 134.80,592.53 134.08,593.32 133.38,594.12 132.74,594.91 132.17,595.71 131.68,596.51 131.29,597.30 131.01,598.10 130.84,598.89 130.80,599.69 130.88,600.48 131.09,601.28 131.41,602.07 131.84,602.87 132.36,603.66 132.96,604.46 133.62,605.25 134.32,606.05 135.05,606.84 135.78,607.64 136.48,608.43 137.15,609.23 137.76,610.02 138.30,610.82 138.74,611.61 139.07,612.41 139.29,613.20 139.39,614.00" fill="none" stroke="#111" stroke-width="1.45"/>
<polyline points="139.34,481.20 139.40,482.00 139.33,482.79 139.14,483.59 138.83,484.38 138.42,485.18 137.91,485.97 137.32,486.77 136.66,487.56 135.96,488.36 135.24,489.15 134.51,489.95 133.80,490.74 133.12,491.54 132.50,492.33 131.96,493.13 131.51,493.92 131.16,494.72 130.93,495.51 130.81,496.31 130.82,497.10 130.95,497.90 131.20,498.69 131.57,499.49 132.03,500.29 132.59,501.08 133.21,501.88 133.89,502.67 134.61,503.47 135.34,504.26 136.06,505.06 136.76,505.85 137.40,506.65 137.99,507.44 138.48,508.24 138.88,509.03 139.17,509.83 139.35,510.62 139.40,511.42 139.33,512.21 139.13,513.01 138.82,513.80 138.40,514.60 137.89,515.39 137.30,516.19 136.64,516.98 135.94,517.78 135.21,518.57 134.49,519.37 133.78,520.17 133.10,520.96 132.49,521.76 131.95,522.55 131.50,523.35 131.15,524.14 130.92,524.94 130.81,525.73 130.82,526.53 130.96,527.32 131.21,528.12 131.58,528.91 132.05,529.71 132.60,530.50 133.23,531.30 133.91,532.09 134.63,532.89 135.36,533.68 136.08,534.48 136.78,535.27 137.42,536.07 138.00,536.86 138.50,537.66 138.89,538.46 139.18,539.25 139.35,540.05 139.40,540.84 139.32,541.64 139.13,542.43 138.81,543.23 138.39,544.02 137.88,544.82 137.28,545.61 136.62,546.41 135.92,547.20 135.19,548.00 134.47,548.79 133.76,549.59 133.08,550.38 132.47,551.18 131.93,551.97 131.49,552.77 131.14,553.56 130.92,554.36 130.81,555.15 130.82,555.95 130.96,556.74 131.22,557.54 131.59,558.34 132.06,559.13 132.62,559.93 133.25,560.72 133.93,561.52 134.65,562.31 135.38,563.11 136.10,563.90 136.80,564.70 137.44,565.49 138.02,566.29 138.51,567.08 138.90,567.88 139.19,568.67 139.35,569.47 139.40,570.26 139.32,571.06 139.12,571.85 138.80,572.65 138.38,573.44 137.86,574.24 137.26,575.03 136.60,575.83 135.90,576.63 135.17,577.42 134.44,578.22 133.74,579.01 133.07,579.81 132.45,580.60 131.92,581.40 131.48,582.19 131.14,582.99 130.91,583.78 130.81,584.58 130.83,585.37 130.97,586.17 131.23,586.96 131.60,587.76 132.08,588.55 132.64,589.35 133.27,590.14 133.96,590.94 134.67,591.73 135.40,592.53 136.12,593.32 136.82,594.12 137.46,594.91 138.03,595.71 138.52,596.51 138.91,597.30 139.19,598.10 139.36,598.89 139.40,599.69 139.32,600.48 139.11,601.28 138.79,602.07 138.36,602.87 137.84,603.66 137.24,604.46 136.58,605.25 135.88,606.05 135.15,606.84 134.42,607.64 133.72,608.43 133.05,609.23 132.44,610.02 131.90,610.82 131.46,611.61 131.13,612.41 130.91,613.20 130.81,614.00" fill="none" stroke="#111" stroke-width="1.45"/>
<rect x="145.20" y="481.20" width="11.30" height="132.80" fill="#fff"/>
<line x1="145.90" y1="481.20" x2="145.90" y2="614.00" stroke="#111" stroke-width="1.9" />
<line x1="155.80" y1="481.20" x2="155.80" y2="614.00" stroke="#111" stroke-width="1.9" />
<polyline points="146.46,481.20 146.40,482.00 146.47,482.79 146.67,483.59 146.99,484.38 147.42,485.18 147.94,485.97 148.56,486.77 149.23,487.56 149.96,488.36 150.71,489.15 151.46,489.95 152.20,490.74 152.90,491.54 153.54,492.33 154.10,493.13 154.57,493.92 154.93,494.72 155.17,495.51 155.29,496.31 155.28,497.10 155.14,497.90 154.88,498.69 154.51,499.49 154.02,500.29 153.45,501.08 152.80,501.88 152.10,502.67 151.36,503.47 150.60,504.26 149.85,505.06 149.13,505.85 148.47,506.65 147.86,507.44 147.35,508.24 146.93,509.03 146.63,509.83 146.45,510.62 146.40,511.42 146.48,512.21 146.68,513.01 147.00,513.80 147.43,514.60 147.96,515.39 148.58,516.19 149.25,516.98 149.98,517.78 150.73,518.57 151.49,519.37 152.22,520.17 152.92,520.96 153.55,521.76 154.11,522.55 154.58,523.35 154.93,524.14 155.17,524.94 155.29,525.73 155.28,526.53 155.14,527.32 154.87,528.12 154.49,528.91 154.01,529.71 153.43,530.50 152.78,531.30 152.08,532.09 151.34,532.89 150.58,533.68 149.83,534.48 149.11,535.27 148.45,536.07 147.85,536.86 147.34,537.66 146.92,538.46 146.63,539.25 146.45,540.05 146.40,540.84 146.48,541.64 146.68,542.43 147.01,543.23 147.44,544.02 147.98,544.82 148.59,545.61 149.27,546.41 150.00,547.20 150.75,548.00 151.51,548.79 152.24,549.59 152.94,550.38 153.57,551.18 154.13,551.97 154.59,552.77 154.94,553.56 155.18,554.36 155.29,555.15 155.27,555.95 155.13,556.74 154.86,557.54 154.48,558.34 153.99,559.13 153.41,559.93 152.76,560.72 152.06,561.52 151.31,562.31 150.56,563.11 149.81,563.90 149.09,564.70 148.43,565.49 147.83,566.29 147.32,567.08 146.91,567.88 146.62,568.67 146.45,569.47 146.40,570.26 146.48,571.06 146.69,571.85 147.02,572.65 147.46,573.44 147.99,574.24 148.61,575.03 149.30,575.83 150.02,576.63 150.77,577.42 151.53,578.22 152.26,579.01 152.96,579.81 153.59,580.60 154.14,581.40 154.60,582.19 154.95,582.99 155.18,583.78 155.29,584.58 155.27,585.37 155.12,586.17 154.85,586.96 154.47,587.76 153.98,588.55 153.40,589.35 152.74,590.14 152.03,590.94 151.29,591.73 150.54,592.53 149.79,593.32 149.08,594.12 148.41,594.91 147.82,595.71 147.31,596.51 146.90,597.30 146.61,598.10 146.44,598.89 146.40,599.69 146.49,600.48 146.70,601.28 147.03,602.07 147.47,602.87 148.01,603.66 148.63,604.46 149.32,605.25 150.04,606.05 150.80,606.84 151.55,607.64 152.28,608.43 152.97,609.23 153.61,610.02 154.16,610.82 154.61,611.61 154.96,612.41 155.19,613.20 155.29,614.00" fill="none" stroke="#111" stroke-width="1.45"/>
<polyline points="155.24,481.20 155.30,482.00 155.23,482.79 155.03,483.59 154.71,484.38 154.28,485.18 153.76,485.97 153.14,486.77 152.47,487.56 151.74,488.36 150.99,489.15 150.24,489.95 149.50,490.74 148.80,491.54 148.16,492.33 147.60,493.13 147.13,493.92 146.77,494.72 146.53,495.51 146.41,496.31 146.42,497.10 146.56,497.90 146.82,498.69 147.19,499.49 147.68,500.29 148.25,501.08 148.90,501.88 149.60,502.67 150.34,503.47 151.10,504.26 151.85,505.06 152.57,505.85 153.23,506.65 153.84,507.44 154.35,508.24 154.77,509.03 155.07,509.83 155.25,510.62 155.30,511.42 155.22,512.21 155.02,513.01 154.70,513.80 154.27,514.60 153.74,515.39 153.12,516.19 152.45,516.98 151.72,517.78 150.97,518.57 150.21,519.37 149.48,520.17 148.78,520.96 148.15,521.76 147.59,522.55 147.12,523.35 146.77,524.14 146.53,524.94 146.41,525.73 146.42,526.53 146.56,527.32 146.83,528.12 147.21,528.91 147.69,529.71 148.27,530.50 148.92,531.30 149.62,532.09 150.36,532.89 151.12,533.68 151.87,534.48 152.59,535.27 153.25,536.07 153.85,536.86 154.36,537.66 154.78,538.46 155.07,539.25 155.25,540.05 155.30,540.84 155.22,541.64 155.02,542.43 154.69,543.23 154.26,544.02 153.72,544.82 153.11,545.61 152.43,546.41 151.70,547.20 150.95,548.00 150.19,548.79 149.46,549.59 148.76,550.38 148.13,551.18 147.57,551.97 147.11,552.77 146.76,553.56 146.52,554.36 146.41,555.15 146.43,555.95 146.57,556.74 146.84,557.54 147.22,558.34 147.71,559.13 148.29,559.93 148.94,560.72 149.64,561.52 150.39,562.31 151.14,563.11 151.89,563.90 152.61,564.70 153.27,565.49 153.87,566.29 154.38,567.08 154.79,567.88 155.08,568.67 155.25,569.47 155.30,570.26 155.22,571.06 155.01,571.85 154.68,572.65 154.24,573.44 153.71,574.24 153.09,575.03 152.40,575.83 151.68,576.63 150.93,577.42 150.17,578.22 149.44,579.01 148.74,579.81 148.11,580.60 147.56,581.40 147.10,582.19 146.75,582.99 146.52,583.78 146.41,584.58 146.43,585.37 146.58,586.17 146.85,586.96 147.23,587.76 147.72,588.55 148.30,589.35 148.96,590.14 149.67,590.94 150.41,591.73 151.16,592.53 151.91,593.32 152.62,594.12 153.29,594.91 153.88,595.71 154.39,596.51 154.80,597.30 155.09,598.10 155.26,598.89 155.30,599.69 155.21,600.48 155.00,601.28 154.67,602.07 154.23,602.87 153.69,603.66 153.07,604.46 152.38,605.25 151.66,606.05 150.90,606.84 150.15,607.64 149.42,608.43 148.73,609.23 148.09,610.02 147.54,610.82 147.09,611.61 146.74,612.41 146.51,613.20 146.41,614.00" fill="none" stroke="#111" stroke-width="1.45"/>
<line x1="108.50" y1="296.30" x2="119.50" y2="296.30" stroke="#111" stroke-width="1.0" />
<polygon points="119.50,296.30 110.00,294.30 110.00,298.30" fill="#111"/>
<line x1="166.70" y1="296.30" x2="222.00" y2="296.30" stroke="#111" stroke-width="1.0" />
<polygon points="166.90,296.30 176.40,294.30 176.40,298.30" fill="#111"/>
<g transform="translate(193.20,289.30) rotate(0)"><ellipse cx="0" cy="0" rx="4.65" ry="4.65" fill="none" stroke="#111" stroke-width="1.15" transform="skewX(-6)"/><line x1="-4.2" y1="6.9" x2="3.9" y2="-7.0" stroke="#111" stroke-width="1.1"/></g>
<g transform="translate(200.40,294.40)"><text transform="translate(-0.28,0) scale(1.305,1)" font-size="14.4">4</text><text transform="translate(10.32,0) scale(1.305,1)" font-size="14.4">0</text></g>
<line x1="113.00" y1="513.80" x2="123.80" y2="513.80" stroke="#111" stroke-width="1.0" />
<polygon points="123.80,513.80 113.80,511.80 113.80,515.80" fill="#111"/>
<line x1="162.50" y1="513.80" x2="232.00" y2="513.80" stroke="#111" stroke-width="1.0" />
<polygon points="162.50,513.80 172.50,511.80 172.50,515.80" fill="#111"/>
<g transform="translate(190.60,506.70) rotate(0)"><ellipse cx="0" cy="0" rx="4.65" ry="4.65" fill="none" stroke="#111" stroke-width="1.15" transform="skewX(-6)"/><line x1="-4.2" y1="6.9" x2="3.9" y2="-7.0" stroke="#111" stroke-width="1.1"/></g>
<g transform="translate(197.90,511.90)"><text transform="translate(-0.41,0) scale(1.242,1)" font-size="14.4">3</text><text transform="translate(9.48,0) scale(1.242,1)" font-size="14.4">3</text><text transform="translate(18.56,0) scale(1.242,1)" font-size="14.4">.</text><text transform="translate(22.75,0) scale(1.242,1)" font-size="14.4">5</text></g>
<path d="M95.5,621.1 C99,617.6 120,612.9 135.2,612.9 C150.4,612.9 171.4,617.6 174.9,621.1 C175.2,623 173.4,624.6 171.2,625.4 L168,626.3 L102.4,626.3 L99.2,625.4 C97,624.6 95.2,623 95.5,621.1 Z" fill="#fff" stroke="#111" stroke-width="1.15" />
<line x1="98.60" y1="623.70" x2="171.80" y2="623.70" stroke="#111" stroke-width="0.9" />
<line x1="101.00" y1="626.20" x2="169.40" y2="626.20" stroke="#111" stroke-width="1.5" />
<path d="M103.6,626.4 C108,627.6 110.1,629.6 110.1,633 L110.1,644.4 L112.4,645.8 L112.4,657.2" fill="none" stroke="#111" stroke-width="1.1" />
<path d="M166.8,626.4 C162.4,627.6 160.3,629.6 160.3,633 L160.3,644.4 L157.9,645.8 L157.9,657.2" fill="none" stroke="#111" stroke-width="1.1" />
<path d="M124.1,657.2 L124.1,647.4 C124.1,645.7 125.2,644.7 126.8,644.7 L143,644.7 C144.6,644.7 145.7,645.7 145.7,647.4 L145.7,657.2" fill="none" stroke="#111" stroke-width="1.1" />
<line x1="126.60" y1="645.60" x2="126.60" y2="657.20" stroke="#111" stroke-width="0.9" />
<line x1="129.40" y1="645.60" x2="129.40" y2="657.20" stroke="#111" stroke-width="0.9" />
<line x1="132.30" y1="645.60" x2="132.30" y2="657.20" stroke="#111" stroke-width="0.9" />
<line x1="135.20" y1="645.60" x2="135.20" y2="657.20" stroke="#111" stroke-width="0.9" />
<line x1="138.10" y1="645.60" x2="138.10" y2="657.20" stroke="#111" stroke-width="0.9" />
<line x1="141.00" y1="645.60" x2="141.00" y2="657.20" stroke="#111" stroke-width="0.9" />
<line x1="143.40" y1="645.60" x2="143.40" y2="657.20" stroke="#111" stroke-width="0.9" />
<rect x="97.30" y="657.20" width="75.20" height="7.30" rx="0" fill="#fff" stroke="#111" stroke-width="1.1"/>
<path d="M100.5,664.6 L169.3,664.6 L172.3,667.4 C172.9,668.2 172.9,670.4 172.3,671.4 L97.5,671.4 C96.9,670.4 96.9,668.2 97.5,667.4 Z" fill="#fff" stroke="#111" stroke-width="1.1" />
<line x1="98.00" y1="668.10" x2="171.80" y2="668.10" stroke="#777" stroke-width="1.3" />
<line x1="97.50" y1="671.40" x2="172.30" y2="671.40" stroke="#111" stroke-width="1.4" />
<path d="M99.3,671.6 L105.6,674.2 C107.2,674.9 107.9,675.6 107.9,677.2 L107.9,714 L162.5,714 L162.5,677.2 C162.5,675.6 163.2,674.9 164.8,674.2 L171.1,671.6" fill="#fff" stroke="#111" stroke-width="1.1" />
<line x1="162.50" y1="679.00" x2="162.50" y2="707.50" stroke="#111" stroke-width="2.6" stroke-dasharray="4.6 2.0"/>
<path d="M161.6,685 C158.6,690 158.6,696 161.6,701 Z" fill="#111" stroke="#111" stroke-width="1.2" />
<rect x="110.40" y="714.00" width="49.40" height="17.80" fill="#1c1c1c" stroke="#111" stroke-width="1.1"/>
<line x1="111.60" y1="717.86" x2="158.60" y2="716.86" stroke="#e6e6e6" stroke-width="1.1" />
<line x1="111.60" y1="721.42" x2="158.60" y2="720.42" stroke="#e6e6e6" stroke-width="1.1" />
<line x1="111.60" y1="724.98" x2="158.60" y2="723.98" stroke="#e6e6e6" stroke-width="1.1" />
<line x1="111.60" y1="728.54" x2="158.60" y2="727.54" stroke="#e6e6e6" stroke-width="1.1" />
<circle cx="110.40" cy="715.78" r="0.9" fill="#111"/><circle cx="159.80" cy="715.78" r="0.9" fill="#111"/>
<circle cx="110.40" cy="719.34" r="0.9" fill="#111"/><circle cx="159.80" cy="719.34" r="0.9" fill="#111"/>
<circle cx="110.40" cy="722.90" r="0.9" fill="#111"/><circle cx="159.80" cy="722.90" r="0.9" fill="#111"/>
<circle cx="110.40" cy="726.46" r="0.9" fill="#111"/><circle cx="159.80" cy="726.46" r="0.9" fill="#111"/>
<circle cx="110.40" cy="730.02" r="0.9" fill="#111"/><circle cx="159.80" cy="730.02" r="0.9" fill="#111"/>
<rect x="111.4" y="714.8" width="2.6" height="1.6" fill="#fff"/>
<rect x="129.40" y="732.00" width="10.40" height="15.40" rx="0" fill="#fff" stroke="#111" stroke-width="1.2"/>
<line x1="129.90" y1="732.00" x2="129.90" y2="747.40" stroke="#111" stroke-width="2.0" />
<line x1="139.30" y1="732.00" x2="139.30" y2="747.40" stroke="#111" stroke-width="2.0" />
<path d="M130.4,733 C133.4,738 135.8,742 138.8,747 M138.8,733 C135.8,738 133.4,742 130.4,747" fill="none" stroke="#111" stroke-width="1.1" />
<rect x="129.60" y="751.30" width="10.00" height="8.40" rx="0" fill="#fff" stroke="#111" stroke-width="1.2"/>
<path d="M130.0,751.8 L134.60000000000002,758.8 L139.20000000000002,751.8" fill="none" stroke="#111" stroke-width="1.2" />
<rect x="129.60" y="759.70" width="10.00" height="2.90" rx="0" fill="#fff" stroke="#111" stroke-width="1.0"/>
<rect x="130.30" y="762.60" width="8.60" height="14.60" rx="0" fill="#fff" stroke="#111" stroke-width="1.0"/>
<rect x="132.60" y="767.50" width="4.40" height="9.70" rx="0" fill="#fff" stroke="#111" stroke-width="1.0"/>
<rect x="145.50" y="732.00" width="10.60" height="15.40" rx="0" fill="#fff" stroke="#111" stroke-width="1.2"/>
<line x1="146.00" y1="732.00" x2="146.00" y2="747.40" stroke="#111" stroke-width="2.0" />
<line x1="155.60" y1="732.00" x2="155.60" y2="747.40" stroke="#111" stroke-width="2.0" />
<path d="M146.5,733 C149.5,738 152.1,742 155.1,747 M155.1,733 C152.1,738 149.5,742 146.5,747" fill="none" stroke="#111" stroke-width="1.1" />
<rect x="145.70" y="751.30" width="10.20" height="8.40" rx="0" fill="#fff" stroke="#111" stroke-width="1.2"/>
<path d="M146.1,751.8 L150.8,758.8 L155.5,751.8" fill="none" stroke="#111" stroke-width="1.2" />
<rect x="145.70" y="759.70" width="10.20" height="2.90" rx="0" fill="#fff" stroke="#111" stroke-width="1.0"/>
<rect x="146.40" y="762.60" width="8.80" height="14.60" rx="0" fill="#fff" stroke="#111" stroke-width="1.0"/>
<rect x="148.70" y="767.50" width="4.60" height="9.70" rx="0" fill="#fff" stroke="#111" stroke-width="1.0"/>
<rect x="123.30" y="777.40" width="38.80" height="11.90" rx="1.2" fill="#fff" stroke="#111" stroke-width="1.2"/>
<line x1="139.60" y1="777.40" x2="139.60" y2="789.30" stroke="#111" stroke-width="1.1" />
<line x1="150.80" y1="777.40" x2="150.80" y2="789.30" stroke="#111" stroke-width="1.1" />
</svg>
</body></html>
